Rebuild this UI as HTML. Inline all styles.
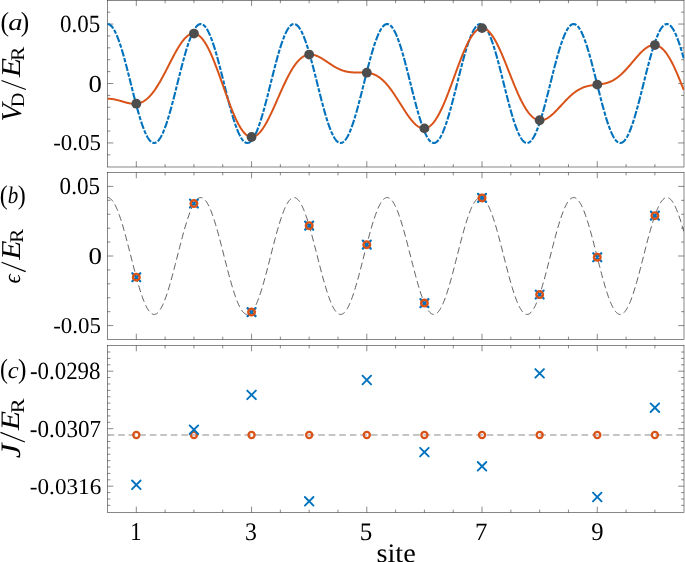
<!DOCTYPE html><html><head><meta charset="utf-8"><style>html,body{margin:0;padding:0;background:#fff;}body{width:685px;height:562px;overflow:hidden;position:relative;}</style></head><body><svg width="685" height="562" viewBox="0 0 685 562" style="position:absolute;left:0;top:0;will-change:transform">
<rect width="685" height="562" fill="#fff"/>
<defs><clipPath id="ca"><rect x="107.2" y="0" width="577.1" height="167.0"/></clipPath><clipPath id="cb"><rect x="107.2" y="172.5" width="577.1" height="167.0"/></clipPath></defs>
<rect x="107.5" y="0.3" width="576.50" height="166.70" fill="none" stroke="#262626" stroke-width="0.55"/>
<line x1="136.31" y1="167.00" x2="136.31" y2="161.20" stroke="#262626" stroke-width="0.55" />
<line x1="136.31" y1="0.30" x2="136.31" y2="6.10" stroke="#262626" stroke-width="0.55" />
<line x1="165.12" y1="167.00" x2="165.12" y2="164.10" stroke="#262626" stroke-width="0.55" />
<line x1="165.12" y1="0.30" x2="165.12" y2="3.20" stroke="#262626" stroke-width="0.55" />
<line x1="193.93" y1="167.00" x2="193.93" y2="164.10" stroke="#262626" stroke-width="0.55" />
<line x1="193.93" y1="0.30" x2="193.93" y2="3.20" stroke="#262626" stroke-width="0.55" />
<line x1="222.74" y1="167.00" x2="222.74" y2="164.10" stroke="#262626" stroke-width="0.55" />
<line x1="222.74" y1="0.30" x2="222.74" y2="3.20" stroke="#262626" stroke-width="0.55" />
<line x1="251.55" y1="167.00" x2="251.55" y2="161.20" stroke="#262626" stroke-width="0.55" />
<line x1="251.55" y1="0.30" x2="251.55" y2="6.10" stroke="#262626" stroke-width="0.55" />
<line x1="280.36" y1="167.00" x2="280.36" y2="164.10" stroke="#262626" stroke-width="0.55" />
<line x1="280.36" y1="0.30" x2="280.36" y2="3.20" stroke="#262626" stroke-width="0.55" />
<line x1="309.17" y1="167.00" x2="309.17" y2="164.10" stroke="#262626" stroke-width="0.55" />
<line x1="309.17" y1="0.30" x2="309.17" y2="3.20" stroke="#262626" stroke-width="0.55" />
<line x1="337.98" y1="167.00" x2="337.98" y2="164.10" stroke="#262626" stroke-width="0.55" />
<line x1="337.98" y1="0.30" x2="337.98" y2="3.20" stroke="#262626" stroke-width="0.55" />
<line x1="366.79" y1="167.00" x2="366.79" y2="161.20" stroke="#262626" stroke-width="0.55" />
<line x1="366.79" y1="0.30" x2="366.79" y2="6.10" stroke="#262626" stroke-width="0.55" />
<line x1="395.60" y1="167.00" x2="395.60" y2="164.10" stroke="#262626" stroke-width="0.55" />
<line x1="395.60" y1="0.30" x2="395.60" y2="3.20" stroke="#262626" stroke-width="0.55" />
<line x1="424.41" y1="167.00" x2="424.41" y2="164.10" stroke="#262626" stroke-width="0.55" />
<line x1="424.41" y1="0.30" x2="424.41" y2="3.20" stroke="#262626" stroke-width="0.55" />
<line x1="453.22" y1="167.00" x2="453.22" y2="164.10" stroke="#262626" stroke-width="0.55" />
<line x1="453.22" y1="0.30" x2="453.22" y2="3.20" stroke="#262626" stroke-width="0.55" />
<line x1="482.03" y1="167.00" x2="482.03" y2="161.20" stroke="#262626" stroke-width="0.55" />
<line x1="482.03" y1="0.30" x2="482.03" y2="6.10" stroke="#262626" stroke-width="0.55" />
<line x1="510.84" y1="167.00" x2="510.84" y2="164.10" stroke="#262626" stroke-width="0.55" />
<line x1="510.84" y1="0.30" x2="510.84" y2="3.20" stroke="#262626" stroke-width="0.55" />
<line x1="539.65" y1="167.00" x2="539.65" y2="164.10" stroke="#262626" stroke-width="0.55" />
<line x1="539.65" y1="0.30" x2="539.65" y2="3.20" stroke="#262626" stroke-width="0.55" />
<line x1="568.46" y1="167.00" x2="568.46" y2="164.10" stroke="#262626" stroke-width="0.55" />
<line x1="568.46" y1="0.30" x2="568.46" y2="3.20" stroke="#262626" stroke-width="0.55" />
<line x1="597.27" y1="167.00" x2="597.27" y2="161.20" stroke="#262626" stroke-width="0.55" />
<line x1="597.27" y1="0.30" x2="597.27" y2="6.10" stroke="#262626" stroke-width="0.55" />
<line x1="626.08" y1="167.00" x2="626.08" y2="164.10" stroke="#262626" stroke-width="0.55" />
<line x1="626.08" y1="0.30" x2="626.08" y2="3.20" stroke="#262626" stroke-width="0.55" />
<line x1="654.89" y1="167.00" x2="654.89" y2="164.10" stroke="#262626" stroke-width="0.55" />
<line x1="654.89" y1="0.30" x2="654.89" y2="3.20" stroke="#262626" stroke-width="0.55" />
<rect x="107.5" y="172.5" width="576.50" height="167.00" fill="none" stroke="#262626" stroke-width="0.55"/>
<line x1="136.31" y1="339.50" x2="136.31" y2="333.70" stroke="#262626" stroke-width="0.55" />
<line x1="136.31" y1="172.50" x2="136.31" y2="178.30" stroke="#262626" stroke-width="0.55" />
<line x1="165.12" y1="339.50" x2="165.12" y2="336.60" stroke="#262626" stroke-width="0.55" />
<line x1="165.12" y1="172.50" x2="165.12" y2="175.40" stroke="#262626" stroke-width="0.55" />
<line x1="193.93" y1="339.50" x2="193.93" y2="336.60" stroke="#262626" stroke-width="0.55" />
<line x1="193.93" y1="172.50" x2="193.93" y2="175.40" stroke="#262626" stroke-width="0.55" />
<line x1="222.74" y1="339.50" x2="222.74" y2="336.60" stroke="#262626" stroke-width="0.55" />
<line x1="222.74" y1="172.50" x2="222.74" y2="175.40" stroke="#262626" stroke-width="0.55" />
<line x1="251.55" y1="339.50" x2="251.55" y2="333.70" stroke="#262626" stroke-width="0.55" />
<line x1="251.55" y1="172.50" x2="251.55" y2="178.30" stroke="#262626" stroke-width="0.55" />
<line x1="280.36" y1="339.50" x2="280.36" y2="336.60" stroke="#262626" stroke-width="0.55" />
<line x1="280.36" y1="172.50" x2="280.36" y2="175.40" stroke="#262626" stroke-width="0.55" />
<line x1="309.17" y1="339.50" x2="309.17" y2="336.60" stroke="#262626" stroke-width="0.55" />
<line x1="309.17" y1="172.50" x2="309.17" y2="175.40" stroke="#262626" stroke-width="0.55" />
<line x1="337.98" y1="339.50" x2="337.98" y2="336.60" stroke="#262626" stroke-width="0.55" />
<line x1="337.98" y1="172.50" x2="337.98" y2="175.40" stroke="#262626" stroke-width="0.55" />
<line x1="366.79" y1="339.50" x2="366.79" y2="333.70" stroke="#262626" stroke-width="0.55" />
<line x1="366.79" y1="172.50" x2="366.79" y2="178.30" stroke="#262626" stroke-width="0.55" />
<line x1="395.60" y1="339.50" x2="395.60" y2="336.60" stroke="#262626" stroke-width="0.55" />
<line x1="395.60" y1="172.50" x2="395.60" y2="175.40" stroke="#262626" stroke-width="0.55" />
<line x1="424.41" y1="339.50" x2="424.41" y2="336.60" stroke="#262626" stroke-width="0.55" />
<line x1="424.41" y1="172.50" x2="424.41" y2="175.40" stroke="#262626" stroke-width="0.55" />
<line x1="453.22" y1="339.50" x2="453.22" y2="336.60" stroke="#262626" stroke-width="0.55" />
<line x1="453.22" y1="172.50" x2="453.22" y2="175.40" stroke="#262626" stroke-width="0.55" />
<line x1="482.03" y1="339.50" x2="482.03" y2="333.70" stroke="#262626" stroke-width="0.55" />
<line x1="482.03" y1="172.50" x2="482.03" y2="178.30" stroke="#262626" stroke-width="0.55" />
<line x1="510.84" y1="339.50" x2="510.84" y2="336.60" stroke="#262626" stroke-width="0.55" />
<line x1="510.84" y1="172.50" x2="510.84" y2="175.40" stroke="#262626" stroke-width="0.55" />
<line x1="539.65" y1="339.50" x2="539.65" y2="336.60" stroke="#262626" stroke-width="0.55" />
<line x1="539.65" y1="172.50" x2="539.65" y2="175.40" stroke="#262626" stroke-width="0.55" />
<line x1="568.46" y1="339.50" x2="568.46" y2="336.60" stroke="#262626" stroke-width="0.55" />
<line x1="568.46" y1="172.50" x2="568.46" y2="175.40" stroke="#262626" stroke-width="0.55" />
<line x1="597.27" y1="339.50" x2="597.27" y2="333.70" stroke="#262626" stroke-width="0.55" />
<line x1="597.27" y1="172.50" x2="597.27" y2="178.30" stroke="#262626" stroke-width="0.55" />
<line x1="626.08" y1="339.50" x2="626.08" y2="336.60" stroke="#262626" stroke-width="0.55" />
<line x1="626.08" y1="172.50" x2="626.08" y2="175.40" stroke="#262626" stroke-width="0.55" />
<line x1="654.89" y1="339.50" x2="654.89" y2="336.60" stroke="#262626" stroke-width="0.55" />
<line x1="654.89" y1="172.50" x2="654.89" y2="175.40" stroke="#262626" stroke-width="0.55" />
<rect x="107.5" y="345.5" width="576.50" height="167.00" fill="none" stroke="#262626" stroke-width="0.55"/>
<line x1="136.31" y1="512.50" x2="136.31" y2="506.70" stroke="#262626" stroke-width="0.55" />
<line x1="136.31" y1="345.50" x2="136.31" y2="351.30" stroke="#262626" stroke-width="0.55" />
<line x1="165.12" y1="512.50" x2="165.12" y2="509.60" stroke="#262626" stroke-width="0.55" />
<line x1="165.12" y1="345.50" x2="165.12" y2="348.40" stroke="#262626" stroke-width="0.55" />
<line x1="193.93" y1="512.50" x2="193.93" y2="509.60" stroke="#262626" stroke-width="0.55" />
<line x1="193.93" y1="345.50" x2="193.93" y2="348.40" stroke="#262626" stroke-width="0.55" />
<line x1="222.74" y1="512.50" x2="222.74" y2="509.60" stroke="#262626" stroke-width="0.55" />
<line x1="222.74" y1="345.50" x2="222.74" y2="348.40" stroke="#262626" stroke-width="0.55" />
<line x1="251.55" y1="512.50" x2="251.55" y2="506.70" stroke="#262626" stroke-width="0.55" />
<line x1="251.55" y1="345.50" x2="251.55" y2="351.30" stroke="#262626" stroke-width="0.55" />
<line x1="280.36" y1="512.50" x2="280.36" y2="509.60" stroke="#262626" stroke-width="0.55" />
<line x1="280.36" y1="345.50" x2="280.36" y2="348.40" stroke="#262626" stroke-width="0.55" />
<line x1="309.17" y1="512.50" x2="309.17" y2="509.60" stroke="#262626" stroke-width="0.55" />
<line x1="309.17" y1="345.50" x2="309.17" y2="348.40" stroke="#262626" stroke-width="0.55" />
<line x1="337.98" y1="512.50" x2="337.98" y2="509.60" stroke="#262626" stroke-width="0.55" />
<line x1="337.98" y1="345.50" x2="337.98" y2="348.40" stroke="#262626" stroke-width="0.55" />
<line x1="366.79" y1="512.50" x2="366.79" y2="506.70" stroke="#262626" stroke-width="0.55" />
<line x1="366.79" y1="345.50" x2="366.79" y2="351.30" stroke="#262626" stroke-width="0.55" />
<line x1="395.60" y1="512.50" x2="395.60" y2="509.60" stroke="#262626" stroke-width="0.55" />
<line x1="395.60" y1="345.50" x2="395.60" y2="348.40" stroke="#262626" stroke-width="0.55" />
<line x1="424.41" y1="512.50" x2="424.41" y2="509.60" stroke="#262626" stroke-width="0.55" />
<line x1="424.41" y1="345.50" x2="424.41" y2="348.40" stroke="#262626" stroke-width="0.55" />
<line x1="453.22" y1="512.50" x2="453.22" y2="509.60" stroke="#262626" stroke-width="0.55" />
<line x1="453.22" y1="345.50" x2="453.22" y2="348.40" stroke="#262626" stroke-width="0.55" />
<line x1="482.03" y1="512.50" x2="482.03" y2="506.70" stroke="#262626" stroke-width="0.55" />
<line x1="482.03" y1="345.50" x2="482.03" y2="351.30" stroke="#262626" stroke-width="0.55" />
<line x1="510.84" y1="512.50" x2="510.84" y2="509.60" stroke="#262626" stroke-width="0.55" />
<line x1="510.84" y1="345.50" x2="510.84" y2="348.40" stroke="#262626" stroke-width="0.55" />
<line x1="539.65" y1="512.50" x2="539.65" y2="509.60" stroke="#262626" stroke-width="0.55" />
<line x1="539.65" y1="345.50" x2="539.65" y2="348.40" stroke="#262626" stroke-width="0.55" />
<line x1="568.46" y1="512.50" x2="568.46" y2="509.60" stroke="#262626" stroke-width="0.55" />
<line x1="568.46" y1="345.50" x2="568.46" y2="348.40" stroke="#262626" stroke-width="0.55" />
<line x1="597.27" y1="512.50" x2="597.27" y2="506.70" stroke="#262626" stroke-width="0.55" />
<line x1="597.27" y1="345.50" x2="597.27" y2="351.30" stroke="#262626" stroke-width="0.55" />
<line x1="626.08" y1="512.50" x2="626.08" y2="509.60" stroke="#262626" stroke-width="0.55" />
<line x1="626.08" y1="345.50" x2="626.08" y2="348.40" stroke="#262626" stroke-width="0.55" />
<line x1="654.89" y1="512.50" x2="654.89" y2="509.60" stroke="#262626" stroke-width="0.55" />
<line x1="654.89" y1="345.50" x2="654.89" y2="348.40" stroke="#262626" stroke-width="0.55" />
<line x1="107.50" y1="24.05" x2="113.30" y2="24.05" stroke="#262626" stroke-width="0.55" />
<line x1="684.00" y1="24.05" x2="678.20" y2="24.05" stroke="#262626" stroke-width="0.55" />
<line x1="107.50" y1="83.50" x2="113.30" y2="83.50" stroke="#262626" stroke-width="0.55" />
<line x1="684.00" y1="83.50" x2="678.20" y2="83.50" stroke="#262626" stroke-width="0.55" />
<line x1="107.50" y1="142.95" x2="113.30" y2="142.95" stroke="#262626" stroke-width="0.55" />
<line x1="684.00" y1="142.95" x2="678.20" y2="142.95" stroke="#262626" stroke-width="0.55" />
<line x1="107.50" y1="154.84" x2="110.40" y2="154.84" stroke="#262626" stroke-width="0.55" />
<line x1="684.00" y1="154.84" x2="681.10" y2="154.84" stroke="#262626" stroke-width="0.55" />
<line x1="107.50" y1="131.06" x2="110.40" y2="131.06" stroke="#262626" stroke-width="0.55" />
<line x1="684.00" y1="131.06" x2="681.10" y2="131.06" stroke="#262626" stroke-width="0.55" />
<line x1="107.50" y1="119.17" x2="110.40" y2="119.17" stroke="#262626" stroke-width="0.55" />
<line x1="684.00" y1="119.17" x2="681.10" y2="119.17" stroke="#262626" stroke-width="0.55" />
<line x1="107.50" y1="107.28" x2="110.40" y2="107.28" stroke="#262626" stroke-width="0.55" />
<line x1="684.00" y1="107.28" x2="681.10" y2="107.28" stroke="#262626" stroke-width="0.55" />
<line x1="107.50" y1="95.39" x2="110.40" y2="95.39" stroke="#262626" stroke-width="0.55" />
<line x1="684.00" y1="95.39" x2="681.10" y2="95.39" stroke="#262626" stroke-width="0.55" />
<line x1="107.50" y1="71.61" x2="110.40" y2="71.61" stroke="#262626" stroke-width="0.55" />
<line x1="684.00" y1="71.61" x2="681.10" y2="71.61" stroke="#262626" stroke-width="0.55" />
<line x1="107.50" y1="59.72" x2="110.40" y2="59.72" stroke="#262626" stroke-width="0.55" />
<line x1="684.00" y1="59.72" x2="681.10" y2="59.72" stroke="#262626" stroke-width="0.55" />
<line x1="107.50" y1="47.83" x2="110.40" y2="47.83" stroke="#262626" stroke-width="0.55" />
<line x1="684.00" y1="47.83" x2="681.10" y2="47.83" stroke="#262626" stroke-width="0.55" />
<line x1="107.50" y1="35.94" x2="110.40" y2="35.94" stroke="#262626" stroke-width="0.55" />
<line x1="684.00" y1="35.94" x2="681.10" y2="35.94" stroke="#262626" stroke-width="0.55" />
<line x1="107.50" y1="12.16" x2="110.40" y2="12.16" stroke="#262626" stroke-width="0.55" />
<line x1="684.00" y1="12.16" x2="681.10" y2="12.16" stroke="#262626" stroke-width="0.55" />
<line x1="107.50" y1="186.41" x2="113.30" y2="186.41" stroke="#262626" stroke-width="0.55" />
<line x1="684.00" y1="186.41" x2="678.20" y2="186.41" stroke="#262626" stroke-width="0.55" />
<line x1="107.50" y1="256.00" x2="113.30" y2="256.00" stroke="#262626" stroke-width="0.55" />
<line x1="684.00" y1="256.00" x2="678.20" y2="256.00" stroke="#262626" stroke-width="0.55" />
<line x1="107.50" y1="325.59" x2="113.30" y2="325.59" stroke="#262626" stroke-width="0.55" />
<line x1="684.00" y1="325.59" x2="678.20" y2="325.59" stroke="#262626" stroke-width="0.55" />
<line x1="107.50" y1="311.67" x2="110.40" y2="311.67" stroke="#262626" stroke-width="0.55" />
<line x1="684.00" y1="311.67" x2="681.10" y2="311.67" stroke="#262626" stroke-width="0.55" />
<line x1="107.50" y1="297.75" x2="110.40" y2="297.75" stroke="#262626" stroke-width="0.55" />
<line x1="684.00" y1="297.75" x2="681.10" y2="297.75" stroke="#262626" stroke-width="0.55" />
<line x1="107.50" y1="283.83" x2="110.40" y2="283.83" stroke="#262626" stroke-width="0.55" />
<line x1="684.00" y1="283.83" x2="681.10" y2="283.83" stroke="#262626" stroke-width="0.55" />
<line x1="107.50" y1="269.92" x2="110.40" y2="269.92" stroke="#262626" stroke-width="0.55" />
<line x1="684.00" y1="269.92" x2="681.10" y2="269.92" stroke="#262626" stroke-width="0.55" />
<line x1="107.50" y1="242.08" x2="110.40" y2="242.08" stroke="#262626" stroke-width="0.55" />
<line x1="684.00" y1="242.08" x2="681.10" y2="242.08" stroke="#262626" stroke-width="0.55" />
<line x1="107.50" y1="228.17" x2="110.40" y2="228.17" stroke="#262626" stroke-width="0.55" />
<line x1="684.00" y1="228.17" x2="681.10" y2="228.17" stroke="#262626" stroke-width="0.55" />
<line x1="107.50" y1="214.25" x2="110.40" y2="214.25" stroke="#262626" stroke-width="0.55" />
<line x1="684.00" y1="214.25" x2="681.10" y2="214.25" stroke="#262626" stroke-width="0.55" />
<line x1="107.50" y1="200.33" x2="110.40" y2="200.33" stroke="#262626" stroke-width="0.55" />
<line x1="684.00" y1="200.33" x2="681.10" y2="200.33" stroke="#262626" stroke-width="0.55" />
<line x1="107.50" y1="371.20" x2="113.30" y2="371.20" stroke="#262626" stroke-width="0.55" />
<line x1="684.00" y1="371.20" x2="678.20" y2="371.20" stroke="#262626" stroke-width="0.55" />
<line x1="107.50" y1="428.70" x2="113.30" y2="428.70" stroke="#262626" stroke-width="0.55" />
<line x1="684.00" y1="428.70" x2="678.20" y2="428.70" stroke="#262626" stroke-width="0.55" />
<line x1="107.50" y1="486.20" x2="113.30" y2="486.20" stroke="#262626" stroke-width="0.55" />
<line x1="684.00" y1="486.20" x2="678.20" y2="486.20" stroke="#262626" stroke-width="0.55" />
<line x1="107.50" y1="352.03" x2="110.40" y2="352.03" stroke="#262626" stroke-width="0.55" />
<line x1="684.00" y1="352.03" x2="681.10" y2="352.03" stroke="#262626" stroke-width="0.55" />
<line x1="107.50" y1="358.42" x2="110.40" y2="358.42" stroke="#262626" stroke-width="0.55" />
<line x1="684.00" y1="358.42" x2="681.10" y2="358.42" stroke="#262626" stroke-width="0.55" />
<line x1="107.50" y1="364.81" x2="110.40" y2="364.81" stroke="#262626" stroke-width="0.55" />
<line x1="684.00" y1="364.81" x2="681.10" y2="364.81" stroke="#262626" stroke-width="0.55" />
<line x1="107.50" y1="377.59" x2="110.40" y2="377.59" stroke="#262626" stroke-width="0.55" />
<line x1="684.00" y1="377.59" x2="681.10" y2="377.59" stroke="#262626" stroke-width="0.55" />
<line x1="107.50" y1="383.98" x2="110.40" y2="383.98" stroke="#262626" stroke-width="0.55" />
<line x1="684.00" y1="383.98" x2="681.10" y2="383.98" stroke="#262626" stroke-width="0.55" />
<line x1="107.50" y1="390.37" x2="110.40" y2="390.37" stroke="#262626" stroke-width="0.55" />
<line x1="684.00" y1="390.37" x2="681.10" y2="390.37" stroke="#262626" stroke-width="0.55" />
<line x1="107.50" y1="396.76" x2="110.40" y2="396.76" stroke="#262626" stroke-width="0.55" />
<line x1="684.00" y1="396.76" x2="681.10" y2="396.76" stroke="#262626" stroke-width="0.55" />
<line x1="107.50" y1="403.14" x2="110.40" y2="403.14" stroke="#262626" stroke-width="0.55" />
<line x1="684.00" y1="403.14" x2="681.10" y2="403.14" stroke="#262626" stroke-width="0.55" />
<line x1="107.50" y1="409.53" x2="110.40" y2="409.53" stroke="#262626" stroke-width="0.55" />
<line x1="684.00" y1="409.53" x2="681.10" y2="409.53" stroke="#262626" stroke-width="0.55" />
<line x1="107.50" y1="415.92" x2="110.40" y2="415.92" stroke="#262626" stroke-width="0.55" />
<line x1="684.00" y1="415.92" x2="681.10" y2="415.92" stroke="#262626" stroke-width="0.55" />
<line x1="107.50" y1="422.31" x2="110.40" y2="422.31" stroke="#262626" stroke-width="0.55" />
<line x1="684.00" y1="422.31" x2="681.10" y2="422.31" stroke="#262626" stroke-width="0.55" />
<line x1="107.50" y1="435.09" x2="110.40" y2="435.09" stroke="#262626" stroke-width="0.55" />
<line x1="684.00" y1="435.09" x2="681.10" y2="435.09" stroke="#262626" stroke-width="0.55" />
<line x1="107.50" y1="441.48" x2="110.40" y2="441.48" stroke="#262626" stroke-width="0.55" />
<line x1="684.00" y1="441.48" x2="681.10" y2="441.48" stroke="#262626" stroke-width="0.55" />
<line x1="107.50" y1="447.87" x2="110.40" y2="447.87" stroke="#262626" stroke-width="0.55" />
<line x1="684.00" y1="447.87" x2="681.10" y2="447.87" stroke="#262626" stroke-width="0.55" />
<line x1="107.50" y1="454.26" x2="110.40" y2="454.26" stroke="#262626" stroke-width="0.55" />
<line x1="684.00" y1="454.26" x2="681.10" y2="454.26" stroke="#262626" stroke-width="0.55" />
<line x1="107.50" y1="460.65" x2="110.40" y2="460.65" stroke="#262626" stroke-width="0.55" />
<line x1="684.00" y1="460.65" x2="681.10" y2="460.65" stroke="#262626" stroke-width="0.55" />
<line x1="107.50" y1="467.03" x2="110.40" y2="467.03" stroke="#262626" stroke-width="0.55" />
<line x1="684.00" y1="467.03" x2="681.10" y2="467.03" stroke="#262626" stroke-width="0.55" />
<line x1="107.50" y1="473.42" x2="110.40" y2="473.42" stroke="#262626" stroke-width="0.55" />
<line x1="684.00" y1="473.42" x2="681.10" y2="473.42" stroke="#262626" stroke-width="0.55" />
<line x1="107.50" y1="479.81" x2="110.40" y2="479.81" stroke="#262626" stroke-width="0.55" />
<line x1="684.00" y1="479.81" x2="681.10" y2="479.81" stroke="#262626" stroke-width="0.55" />
<line x1="107.50" y1="492.59" x2="110.40" y2="492.59" stroke="#262626" stroke-width="0.55" />
<line x1="684.00" y1="492.59" x2="681.10" y2="492.59" stroke="#262626" stroke-width="0.55" />
<line x1="107.50" y1="498.98" x2="110.40" y2="498.98" stroke="#262626" stroke-width="0.55" />
<line x1="684.00" y1="498.98" x2="681.10" y2="498.98" stroke="#262626" stroke-width="0.55" />
<line x1="107.50" y1="505.37" x2="110.40" y2="505.37" stroke="#262626" stroke-width="0.55" />
<line x1="684.00" y1="505.37" x2="681.10" y2="505.37" stroke="#262626" stroke-width="0.55" />
<g clip-path="url(#ca)">
<path d="M107.50,24.05 L107.98,24.08 L108.46,24.17 L108.94,24.33 L109.42,24.55 L109.90,24.83 L110.38,25.17 L110.86,25.57 L111.34,26.03 L111.83,26.56 L112.31,27.14 L112.79,27.78 L113.27,28.48 L113.75,29.24 L114.23,30.06 L114.71,30.93 L115.19,31.85 L115.67,32.84 L116.15,33.87 L116.63,34.96 L117.11,36.09 L117.59,37.28 L118.07,38.51 L118.55,39.80 L119.03,41.12 L119.51,42.50 L119.99,43.91 L120.48,45.37 L120.96,46.86 L121.44,48.40 L121.92,49.97 L122.40,51.58 L122.88,53.22 L123.36,54.89 L123.84,56.60 L124.32,58.33 L124.80,60.08 L125.28,61.87 L125.76,63.67 L126.24,65.49 L126.72,67.34 L127.20,69.20 L127.68,71.08 L128.16,72.97 L128.64,74.87 L129.13,76.77 L129.61,78.69 L130.09,80.61 L130.57,82.54 L131.05,84.46 L131.53,86.39 L132.01,88.31 L132.49,90.22 L132.97,92.13 L133.45,94.03 L133.93,95.92 L134.41,97.80 L134.89,99.66 L135.37,101.50 L135.85,103.33 L136.33,105.13 L136.81,106.91 L137.30,108.67 L137.78,110.40 L138.26,112.11 L138.74,113.78 L139.22,115.42 L139.70,117.03 L140.18,118.60 L140.66,120.13 L141.14,121.63 L141.62,123.09 L142.10,124.50 L142.58,125.88 L143.06,127.20 L143.54,128.49 L144.02,129.72 L144.50,130.91 L144.98,132.04 L145.46,133.13 L145.95,134.16 L146.43,135.14 L146.91,136.07 L147.39,136.94 L147.87,137.76 L148.35,138.52 L148.83,139.22 L149.31,139.86 L149.79,140.44 L150.27,140.97 L150.75,141.43 L151.23,141.83 L151.71,142.17 L152.19,142.45 L152.67,142.67 L153.15,142.83 L153.63,142.92 L154.12,142.95 L154.60,142.92 L155.08,142.83 L155.56,142.67 L156.04,142.45 L156.52,142.17 L157.00,141.83 L157.48,141.43 L157.96,140.97 L158.44,140.44 L158.92,139.86 L159.40,139.22 L159.88,138.52 L160.36,137.76 L160.84,136.94 L161.32,136.07 L161.80,135.15 L162.28,134.17 L162.77,133.13 L163.25,132.05 L163.73,130.91 L164.21,129.72 L164.69,128.49 L165.17,127.21 L165.65,125.88 L166.13,124.51 L166.61,123.09 L167.09,121.63 L167.57,120.14 L168.05,118.60 L168.53,117.03 L169.01,115.42 L169.49,113.78 L169.97,112.11 L170.45,110.41 L170.93,108.68 L171.42,106.92 L171.90,105.14 L172.38,103.33 L172.86,101.51 L173.34,99.66 L173.82,97.80 L174.30,95.93 L174.78,94.04 L175.26,92.14 L175.74,90.23 L176.22,88.31 L176.70,86.39 L177.18,84.47 L177.66,82.54 L178.14,80.62 L178.62,78.69 L179.10,76.78 L179.59,74.87 L180.07,72.97 L180.55,71.08 L181.03,69.20 L181.51,67.34 L181.99,65.50 L182.47,63.67 L182.95,61.87 L183.43,60.09 L183.91,58.33 L184.39,56.60 L184.87,54.90 L185.35,53.22 L185.83,51.58 L186.31,49.98 L186.79,48.40 L187.27,46.87 L187.75,45.37 L188.24,43.91 L188.72,42.50 L189.20,41.13 L189.68,39.80 L190.16,38.52 L190.64,37.28 L191.12,36.09 L191.60,34.96 L192.08,33.87 L192.56,32.84 L193.04,31.86 L193.52,30.93 L194.00,30.06 L194.48,29.24 L194.96,28.49 L195.44,27.78 L195.92,27.14 L196.40,26.56 L196.89,26.04 L197.37,25.57 L197.85,25.17 L198.33,24.83 L198.81,24.55 L199.29,24.33 L199.77,24.17 L200.25,24.08 L200.73,24.05 L201.21,24.08 L201.69,24.17 L202.17,24.33 L202.65,24.55 L203.13,24.83 L203.61,25.17 L204.09,25.57 L204.57,26.03 L205.06,26.56 L205.54,27.14 L206.02,27.78 L206.50,28.48 L206.98,29.24 L207.46,30.06 L207.94,30.93 L208.42,31.85 L208.90,32.83 L209.38,33.87 L209.86,34.95 L210.34,36.09 L210.82,37.28 L211.30,38.51 L211.78,39.79 L212.26,41.12 L212.74,42.49 L213.22,43.91 L213.71,45.36 L214.19,46.86 L214.67,48.40 L215.15,49.97 L215.63,51.58 L216.11,53.22 L216.59,54.89 L217.07,56.59 L217.55,58.32 L218.03,60.08 L218.51,61.86 L218.99,63.67 L219.47,65.49 L219.95,67.33 L220.43,69.20 L220.91,71.07 L221.39,72.96 L221.87,74.86 L222.36,76.77 L222.84,78.69 L223.32,80.61 L223.80,82.53 L224.28,84.46 L224.76,86.38 L225.24,88.30 L225.72,90.22 L226.20,92.13 L226.68,94.03 L227.16,95.92 L227.64,97.79 L228.12,99.65 L228.60,101.50 L229.08,103.32 L229.56,105.13 L230.04,106.91 L230.53,108.67 L231.01,110.40 L231.49,112.10 L231.97,113.77 L232.45,115.41 L232.93,117.02 L233.41,118.59 L233.89,120.13 L234.37,121.63 L234.85,123.08 L235.33,124.50 L235.81,125.87 L236.29,127.20 L236.77,128.48 L237.25,129.72 L237.73,130.90 L238.21,132.04 L238.69,133.13 L239.18,134.16 L239.66,135.14 L240.14,136.07 L240.62,136.94 L241.10,137.76 L241.58,138.51 L242.06,139.21 L242.54,139.86 L243.02,140.44 L243.50,140.96 L243.98,141.43 L244.46,141.83 L244.94,142.17 L245.42,142.45 L245.90,142.67 L246.38,142.82 L246.86,142.92 L247.35,142.95 L247.83,142.92 L248.31,142.83 L248.79,142.67 L249.27,142.45 L249.75,142.17 L250.23,141.83 L250.71,141.43 L251.19,140.97 L251.67,140.44 L252.15,139.86 L252.63,139.22 L253.11,138.52 L253.59,137.76 L254.07,136.95 L254.55,136.07 L255.03,135.15 L255.51,134.17 L256.00,133.13 L256.48,132.05 L256.96,130.91 L257.44,129.73 L257.92,128.49 L258.40,127.21 L258.88,125.88 L259.36,124.51 L259.84,123.09 L260.32,121.64 L260.80,120.14 L261.28,118.61 L261.76,117.03 L262.24,115.43 L262.72,113.79 L263.20,112.11 L263.68,110.41 L264.16,108.68 L264.65,106.92 L265.13,105.14 L265.61,103.34 L266.09,101.51 L266.57,99.67 L267.05,97.81 L267.53,95.93 L268.01,94.04 L268.49,92.14 L268.97,90.23 L269.45,88.32 L269.93,86.39 L270.41,84.47 L270.89,82.54 L271.37,80.62 L271.85,78.70 L272.33,76.78 L272.82,74.87 L273.30,72.97 L273.78,71.08 L274.26,69.21 L274.74,67.35 L275.22,65.50 L275.70,63.68 L276.18,61.87 L276.66,60.09 L277.14,58.33 L277.62,56.60 L278.10,54.90 L278.58,53.23 L279.06,51.59 L279.54,49.98 L280.02,48.41 L280.50,46.87 L280.98,45.37 L281.47,43.92 L281.95,42.50 L282.43,41.13 L282.91,39.80 L283.39,38.52 L283.87,37.28 L284.35,36.10 L284.83,34.96 L285.31,33.87 L285.79,32.84 L286.27,31.86 L286.75,30.93 L287.23,30.06 L287.71,29.25 L288.19,28.49 L288.67,27.79 L289.15,27.14 L289.63,26.56 L290.12,26.04 L290.60,25.57 L291.08,25.17 L291.56,24.83 L292.04,24.55 L292.52,24.33 L293.00,24.18 L293.48,24.08 L293.96,24.05 L294.44,24.08 L294.92,24.17 L295.40,24.33 L295.88,24.55 L296.36,24.83 L296.84,25.17 L297.32,25.57 L297.80,26.03 L298.29,26.56 L298.77,27.14 L299.25,27.78 L299.73,28.48 L300.21,29.24 L300.69,30.05 L301.17,30.92 L301.65,31.85 L302.13,32.83 L302.61,33.86 L303.09,34.95 L303.57,36.09 L304.05,37.27 L304.53,38.51 L305.01,39.79 L305.49,41.12 L305.97,42.49 L306.45,43.90 L306.94,45.36 L307.42,46.86 L307.90,48.39 L308.38,49.96 L308.86,51.57 L309.34,53.21 L309.82,54.89 L310.30,56.59 L310.78,58.32 L311.26,60.08 L311.74,61.86 L312.22,63.66 L312.70,65.49 L313.18,67.33 L313.66,69.19 L314.14,71.07 L314.62,72.96 L315.11,74.86 L315.59,76.77 L316.07,78.68 L316.55,80.60 L317.03,82.53 L317.51,84.45 L317.99,86.38 L318.47,88.30 L318.95,90.21 L319.43,92.12 L319.91,94.02 L320.39,95.91 L320.87,97.79 L321.35,99.65 L321.83,101.49 L322.31,103.32 L322.79,105.12 L323.27,106.91 L323.76,108.66 L324.24,110.39 L324.72,112.10 L325.20,113.77 L325.68,115.41 L326.16,117.02 L326.64,118.59 L327.12,120.13 L327.60,121.62 L328.08,123.08 L328.56,124.50 L329.04,125.87 L329.52,127.20 L330.00,128.48 L330.48,129.71 L330.96,130.90 L331.44,132.04 L331.92,133.12 L332.41,134.16 L332.89,135.14 L333.37,136.07 L333.85,136.94 L334.33,137.75 L334.81,138.51 L335.29,139.21 L335.77,139.86 L336.25,140.44 L336.73,140.96 L337.21,141.43 L337.69,141.83 L338.17,142.17 L338.65,142.45 L339.13,142.67 L339.61,142.82 L340.09,142.92 L340.58,142.95 L341.06,142.92 L341.54,142.83 L342.02,142.67 L342.50,142.45 L342.98,142.17 L343.46,141.83 L343.94,141.43 L344.42,140.97 L344.90,140.45 L345.38,139.86 L345.86,139.22 L346.34,138.52 L346.82,137.76 L347.30,136.95 L347.78,136.08 L348.26,135.15 L348.74,134.17 L349.23,133.14 L349.71,132.05 L350.19,130.91 L350.67,129.73 L351.15,128.49 L351.63,127.21 L352.11,125.88 L352.59,124.51 L353.07,123.10 L353.55,121.64 L354.03,120.14 L354.51,118.61 L354.99,117.04 L355.47,115.43 L355.95,113.79 L356.43,112.12 L356.91,110.41 L357.39,108.68 L357.88,106.93 L358.36,105.15 L358.84,103.34 L359.32,101.52 L359.80,99.67 L360.28,97.81 L360.76,95.93 L361.24,94.05 L361.72,92.15 L362.20,90.24 L362.68,88.32 L363.16,86.40 L363.64,84.47 L364.12,82.55 L364.60,80.63 L365.08,78.70 L365.56,76.79 L366.05,74.88 L366.53,72.98 L367.01,71.09 L367.49,69.21 L367.97,67.35 L368.45,65.51 L368.93,63.68 L369.41,61.88 L369.89,60.10 L370.37,58.34 L370.85,56.61 L371.33,54.90 L371.81,53.23 L372.29,51.59 L372.77,49.98 L373.25,48.41 L373.73,46.88 L374.21,45.38 L374.70,43.92 L375.18,42.51 L375.66,41.13 L376.14,39.80 L376.62,38.52 L377.10,37.29 L377.58,36.10 L378.06,34.96 L378.54,33.88 L379.02,32.84 L379.50,31.86 L379.98,30.93 L380.46,30.06 L380.94,29.25 L381.42,28.49 L381.90,27.79 L382.38,27.14 L382.86,26.56 L383.35,26.04 L383.83,25.57 L384.31,25.17 L384.79,24.83 L385.27,24.55 L385.75,24.33 L386.23,24.18 L386.71,24.08 L387.19,24.05 L387.67,24.08 L388.15,24.17 L388.63,24.33 L389.11,24.55 L389.59,24.83 L390.07,25.17 L390.55,25.57 L391.03,26.03 L391.52,26.55 L392.00,27.14 L392.48,27.78 L392.96,28.48 L393.44,29.24 L393.92,30.05 L394.40,30.92 L394.88,31.85 L395.36,32.83 L395.84,33.86 L396.32,34.95 L396.80,36.08 L397.28,37.27 L397.76,38.50 L398.24,39.79 L398.72,41.11 L399.20,42.49 L399.68,43.90 L400.17,45.36 L400.65,46.85 L401.13,48.39 L401.61,49.96 L402.09,51.57 L402.57,53.21 L403.05,54.88 L403.53,56.58 L404.01,58.31 L404.49,60.07 L404.97,61.85 L405.45,63.66 L405.93,65.48 L406.41,67.33 L406.89,69.19 L407.37,71.06 L407.85,72.95 L408.34,74.85 L408.82,76.76 L409.30,78.68 L409.78,80.60 L410.26,82.52 L410.74,84.45 L411.22,86.37 L411.70,88.29 L412.18,90.21 L412.66,92.12 L413.14,94.02 L413.62,95.91 L414.10,97.79 L414.58,99.65 L415.06,101.49 L415.54,103.32 L416.02,105.12 L416.50,106.90 L416.99,108.66 L417.47,110.39 L417.95,112.09 L418.43,113.77 L418.91,115.41 L419.39,117.02 L419.87,118.59 L420.35,120.12 L420.83,121.62 L421.31,123.08 L421.79,124.49 L422.27,125.87 L422.75,127.19 L423.23,128.48 L423.71,129.71 L424.19,130.90 L424.67,132.04 L425.15,133.12 L425.64,134.16 L426.12,135.14 L426.60,136.06 L427.08,136.94 L427.56,137.75 L428.04,138.51 L428.52,139.21 L429.00,139.85 L429.48,140.44 L429.96,140.96 L430.44,141.43 L430.92,141.83 L431.40,142.17 L431.88,142.45 L432.36,142.67 L432.84,142.82 L433.32,142.92 L433.81,142.95 L434.29,142.92 L434.77,142.83 L435.25,142.67 L435.73,142.45 L436.21,142.17 L436.69,141.83 L437.17,141.43 L437.65,140.97 L438.13,140.45 L438.61,139.86 L439.09,139.22 L439.57,138.52 L440.05,137.76 L440.53,136.95 L441.01,136.08 L441.49,135.15 L441.97,134.17 L442.46,133.14 L442.94,132.05 L443.42,130.92 L443.90,129.73 L444.38,128.50 L444.86,127.22 L445.34,125.89 L445.82,124.52 L446.30,123.10 L446.78,121.64 L447.26,120.15 L447.74,118.61 L448.22,117.04 L448.70,115.43 L449.18,113.79 L449.66,112.12 L450.14,110.42 L450.62,108.69 L451.11,106.93 L451.59,105.15 L452.07,103.34 L452.55,101.52 L453.03,99.68 L453.51,97.81 L453.99,95.94 L454.47,94.05 L454.95,92.15 L455.43,90.24 L455.91,88.32 L456.39,86.40 L456.87,84.48 L457.35,82.55 L457.83,80.63 L458.31,78.71 L458.79,76.79 L459.28,74.88 L459.76,72.98 L460.24,71.09 L460.72,69.22 L461.20,67.36 L461.68,65.51 L462.16,63.69 L462.64,61.88 L463.12,60.10 L463.60,58.34 L464.08,56.61 L464.56,54.91 L465.04,53.24 L465.52,51.59 L466.00,49.99 L466.48,48.41 L466.96,46.88 L467.44,45.38 L467.93,43.92 L468.41,42.51 L468.89,41.14 L469.37,39.81 L469.85,38.52 L470.33,37.29 L470.81,36.10 L471.29,34.97 L471.77,33.88 L472.25,32.84 L472.73,31.86 L473.21,30.94 L473.69,30.06 L474.17,29.25 L474.65,28.49 L475.13,27.79 L475.61,27.15 L476.09,26.56 L476.58,26.04 L477.06,25.58 L477.54,25.17 L478.02,24.83 L478.50,24.55 L478.98,24.33 L479.46,24.18 L479.94,24.08 L480.42,24.05 L480.90,24.08 L481.38,24.17 L481.86,24.33 L482.34,24.55 L482.82,24.82 L483.30,25.17 L483.78,25.57 L484.26,26.03 L484.75,26.55 L485.23,27.14 L485.71,27.78 L486.19,28.48 L486.67,29.23 L487.15,30.05 L487.63,30.92 L488.11,31.85 L488.59,32.83 L489.07,33.86 L489.55,34.94 L490.03,36.08 L490.51,37.27 L490.99,38.50 L491.47,39.78 L491.95,41.11 L492.43,42.48 L492.91,43.90 L493.40,45.35 L493.88,46.85 L494.36,48.39 L494.84,49.96 L495.32,51.56 L495.80,53.21 L496.28,54.88 L496.76,56.58 L497.24,58.31 L497.72,60.07 L498.20,61.85 L498.68,63.65 L499.16,65.48 L499.64,67.32 L500.12,69.18 L500.60,71.06 L501.08,72.95 L501.57,74.85 L502.05,76.76 L502.53,78.67 L503.01,80.59 L503.49,82.52 L503.97,84.44 L504.45,86.37 L504.93,88.29 L505.41,90.21 L505.89,92.12 L506.37,94.02 L506.85,95.90 L507.33,97.78 L507.81,99.64 L508.29,101.49 L508.77,103.31 L509.25,105.12 L509.73,106.90 L510.22,108.66 L510.70,110.39 L511.18,112.09 L511.66,113.76 L512.14,115.40 L512.62,117.01 L513.10,118.58 L513.58,120.12 L514.06,121.62 L514.54,123.07 L515.02,124.49 L515.50,125.86 L515.98,127.19 L516.46,128.47 L516.94,129.71 L517.42,130.90 L517.90,132.03 L518.38,133.12 L518.87,134.15 L519.35,135.14 L519.83,136.06 L520.31,136.93 L520.79,137.75 L521.27,138.51 L521.75,139.21 L522.23,139.85 L522.71,140.44 L523.19,140.96 L523.67,141.42 L524.15,141.83 L524.63,142.17 L525.11,142.45 L525.59,142.67 L526.07,142.82 L526.55,142.92 L527.04,142.95 L527.52,142.92 L528.00,142.83 L528.48,142.67 L528.96,142.45 L529.44,142.18 L529.92,141.83 L530.40,141.43 L530.88,140.97 L531.36,140.45 L531.84,139.87 L532.32,139.22 L532.80,138.52 L533.28,137.77 L533.76,136.95 L534.24,136.08 L534.72,135.15 L535.20,134.17 L535.69,133.14 L536.17,132.06 L536.65,130.92 L537.13,129.73 L537.61,128.50 L538.09,127.22 L538.57,125.89 L539.05,124.52 L539.53,123.10 L540.01,121.65 L540.49,120.15 L540.97,118.62 L541.45,117.04 L541.93,115.44 L542.41,113.80 L542.89,112.12 L543.37,110.42 L543.85,108.69 L544.34,106.93 L544.82,105.15 L545.30,103.35 L545.78,101.52 L546.26,99.68 L546.74,97.82 L547.22,95.94 L547.70,94.05 L548.18,92.15 L548.66,90.25 L549.14,88.33 L549.62,86.41 L550.10,84.48 L550.58,82.56 L551.06,80.63 L551.54,78.71 L552.02,76.80 L552.51,74.89 L552.99,72.99 L553.47,71.10 L553.95,69.22 L554.43,67.36 L554.91,65.52 L555.39,63.69 L555.87,61.89 L556.35,60.10 L556.83,58.35 L557.31,56.61 L557.79,54.91 L558.27,53.24 L558.75,51.60 L559.23,49.99 L559.71,48.42 L560.19,46.88 L560.67,45.38 L561.16,43.93 L561.64,42.51 L562.12,41.14 L562.60,39.81 L563.08,38.53 L563.56,37.29 L564.04,36.10 L564.52,34.97 L565.00,33.88 L565.48,32.85 L565.96,31.87 L566.44,30.94 L566.92,30.07 L567.40,29.25 L567.88,28.49 L568.36,27.79 L568.84,27.15 L569.33,26.56 L569.81,26.04 L570.29,25.58 L570.77,25.17 L571.25,24.83 L571.73,24.55 L572.21,24.33 L572.69,24.18 L573.17,24.08 L573.65,24.05 L574.13,24.08 L574.61,24.17 L575.09,24.33 L575.57,24.55 L576.05,24.82 L576.53,25.16 L577.01,25.57 L577.49,26.03 L577.98,26.55 L578.46,27.13 L578.94,27.78 L579.42,28.48 L579.90,29.23 L580.38,30.05 L580.86,30.92 L581.34,31.84 L581.82,32.82 L582.30,33.86 L582.78,34.94 L583.26,36.08 L583.74,37.26 L584.22,38.50 L584.70,39.78 L585.18,41.11 L585.66,42.48 L586.14,43.89 L586.63,45.35 L587.11,46.85 L587.59,48.38 L588.07,49.95 L588.55,51.56 L589.03,53.20 L589.51,54.87 L589.99,56.58 L590.47,58.31 L590.95,60.06 L591.43,61.84 L591.91,63.65 L592.39,65.47 L592.87,67.32 L593.35,69.18 L593.83,71.05 L594.31,72.94 L594.80,74.84 L595.28,76.75 L595.76,78.67 L596.24,80.59 L596.72,82.51 L597.20,84.44 L597.68,86.36 L598.16,88.29 L598.64,90.20 L599.12,92.11 L599.60,94.01 L600.08,95.90 L600.56,97.78 L601.04,99.64 L601.52,101.48 L602.00,103.31 L602.48,105.11 L602.96,106.89 L603.45,108.65 L603.93,110.38 L604.41,112.09 L604.89,113.76 L605.37,115.40 L605.85,117.01 L606.33,118.58 L606.81,120.12 L607.29,121.61 L607.77,123.07 L608.25,124.49 L608.73,125.86 L609.21,127.19 L609.69,128.47 L610.17,129.71 L610.65,130.89 L611.13,132.03 L611.61,133.12 L612.10,134.15 L612.58,135.13 L613.06,136.06 L613.54,136.93 L614.02,137.75 L614.50,138.51 L614.98,139.21 L615.46,139.85 L615.94,140.44 L616.42,140.96 L616.90,141.42 L617.38,141.83 L617.86,142.17 L618.34,142.45 L618.82,142.67 L619.30,142.82 L619.78,142.92 L620.27,142.95 L620.75,142.92 L621.23,142.83 L621.71,142.67 L622.19,142.45 L622.67,142.18 L623.15,141.84 L623.63,141.43 L624.11,140.97 L624.59,140.45 L625.07,139.87 L625.55,139.23 L626.03,138.53 L626.51,137.77 L626.99,136.95 L627.47,136.08 L627.95,135.16 L628.43,134.18 L628.92,133.14 L629.40,132.06 L629.88,130.92 L630.36,129.74 L630.84,128.50 L631.32,127.22 L631.80,125.89 L632.28,124.52 L632.76,123.11 L633.24,121.65 L633.72,120.15 L634.20,118.62 L634.68,117.05 L635.16,115.44 L635.64,113.80 L636.12,112.13 L636.60,110.43 L637.08,108.70 L637.57,106.94 L638.05,105.16 L638.53,103.35 L639.01,101.53 L639.49,99.68 L639.97,97.82 L640.45,95.95 L640.93,94.06 L641.41,92.16 L641.89,90.25 L642.37,88.33 L642.85,86.41 L643.33,84.49 L643.81,82.56 L644.29,80.64 L644.77,78.72 L645.25,76.80 L645.74,74.89 L646.22,72.99 L646.70,71.10 L647.18,69.23 L647.66,67.36 L648.14,65.52 L648.62,63.69 L649.10,61.89 L649.58,60.11 L650.06,58.35 L650.54,56.62 L651.02,54.92 L651.50,53.24 L651.98,51.60 L652.46,49.99 L652.94,48.42 L653.42,46.89 L653.90,45.39 L654.39,43.93 L654.87,42.51 L655.35,41.14 L655.83,39.81 L656.31,38.53 L656.79,37.29 L657.27,36.11 L657.75,34.97 L658.23,33.88 L658.71,32.85 L659.19,31.87 L659.67,30.94 L660.15,30.07 L660.63,29.25 L661.11,28.49 L661.59,27.79 L662.07,27.15 L662.56,26.57 L663.04,26.04 L663.52,25.58 L664.00,25.17 L664.48,24.83 L664.96,24.55 L665.44,24.33 L665.92,24.18 L666.40,24.08 L666.88,24.05 L667.36,24.08 L667.84,24.17 L668.32,24.33 L668.80,24.54 L669.28,24.82 L669.76,25.16 L670.24,25.57 L670.72,26.03 L671.21,26.55 L671.69,27.13 L672.17,27.77 L672.65,28.47 L673.13,29.23 L673.61,30.05 L674.09,30.92 L674.57,31.84 L675.05,32.82 L675.53,33.85 L676.01,34.94 L676.49,36.08 L676.97,37.26 L677.45,38.50 L677.93,39.78 L678.41,41.10 L678.89,42.48 L679.37,43.89 L679.86,45.35 L680.34,46.84 L680.82,48.38 L681.30,49.95 L681.78,51.56 L682.26,53.20 L682.74,54.87 L683.22,56.57 L683.70,58.30" fill="none" stroke="#0072BD" stroke-width="2.1" stroke-dasharray="7.6 1.6 4.2 1.6"/>
<path d="M107.50,98.71 L107.98,98.71 L108.46,98.72 L108.94,98.74 L109.42,98.76 L109.90,98.79 L110.38,98.83 L110.86,98.88 L111.34,98.93 L111.83,98.99 L112.31,99.05 L112.79,99.12 L113.27,99.20 L113.75,99.28 L114.23,99.37 L114.71,99.46 L115.19,99.56 L115.67,99.67 L116.15,99.78 L116.63,99.89 L117.11,100.01 L117.59,100.13 L118.07,100.25 L118.55,100.38 L119.03,100.51 L119.51,100.64 L119.99,100.78 L120.48,100.92 L120.96,101.05 L121.44,101.19 L121.92,101.33 L122.40,101.47 L122.88,101.61 L123.36,101.75 L123.84,101.89 L124.32,102.03 L124.80,102.17 L125.28,102.30 L125.76,102.43 L126.24,102.56 L126.72,102.68 L127.20,102.80 L127.68,102.92 L128.16,103.03 L128.64,103.13 L129.13,103.23 L129.61,103.32 L130.09,103.41 L130.57,103.48 L131.05,103.55 L131.53,103.62 L132.01,103.67 L132.49,103.71 L132.97,103.75 L133.45,103.77 L133.93,103.79 L134.41,103.79 L134.89,103.78 L135.37,103.76 L135.85,103.73 L136.33,103.68 L136.81,103.63 L137.30,103.56 L137.78,103.47 L138.26,103.37 L138.74,103.26 L139.22,103.13 L139.70,102.99 L140.18,102.83 L140.66,102.66 L141.14,102.47 L141.62,102.27 L142.10,102.05 L142.58,101.81 L143.06,101.56 L143.54,101.29 L144.02,101.00 L144.50,100.69 L144.98,100.37 L145.46,100.03 L145.95,99.67 L146.43,99.30 L146.91,98.91 L147.39,98.50 L147.87,98.07 L148.35,97.62 L148.83,97.16 L149.31,96.68 L149.79,96.18 L150.27,95.66 L150.75,95.12 L151.23,94.57 L151.71,94.00 L152.19,93.42 L152.67,92.81 L153.15,92.19 L153.63,91.55 L154.12,90.90 L154.60,90.23 L155.08,89.55 L155.56,88.85 L156.04,88.13 L156.52,87.40 L157.00,86.65 L157.48,85.89 L157.96,85.12 L158.44,84.33 L158.92,83.53 L159.40,82.72 L159.88,81.90 L160.36,81.06 L160.84,80.22 L161.32,79.36 L161.80,78.49 L162.28,77.62 L162.77,76.73 L163.25,75.84 L163.73,74.94 L164.21,74.03 L164.69,73.11 L165.17,72.19 L165.65,71.27 L166.13,70.34 L166.61,69.41 L167.09,68.47 L167.57,67.53 L168.05,66.59 L168.53,65.65 L169.01,64.71 L169.49,63.76 L169.97,62.82 L170.45,61.89 L170.93,60.95 L171.42,60.02 L171.90,59.09 L172.38,58.17 L172.86,57.25 L173.34,56.34 L173.82,55.44 L174.30,54.54 L174.78,53.65 L175.26,52.78 L175.74,51.91 L176.22,51.06 L176.70,50.21 L177.18,49.38 L177.66,48.57 L178.14,47.76 L178.62,46.98 L179.10,46.20 L179.59,45.45 L180.07,44.71 L180.55,43.99 L181.03,43.29 L181.51,42.60 L181.99,41.94 L182.47,41.30 L182.95,40.68 L183.43,40.08 L183.91,39.50 L184.39,38.95 L184.87,38.42 L185.35,37.91 L185.83,37.43 L186.31,36.98 L186.79,36.55 L187.27,36.15 L187.75,35.77 L188.24,35.42 L188.72,35.11 L189.20,34.81 L189.68,34.55 L190.16,34.32 L190.64,34.12 L191.12,33.94 L191.60,33.80 L192.08,33.69 L192.56,33.61 L193.04,33.56 L193.52,33.54 L194.00,33.55 L194.48,33.59 L194.96,33.67 L195.44,33.78 L195.92,33.92 L196.40,34.09 L196.89,34.30 L197.37,34.54 L197.85,34.81 L198.33,35.11 L198.81,35.44 L199.29,35.81 L199.77,36.21 L200.25,36.64 L200.73,37.11 L201.21,37.60 L201.69,38.13 L202.17,38.69 L202.65,39.27 L203.13,39.89 L203.61,40.54 L204.09,41.22 L204.57,41.93 L205.06,42.67 L205.54,43.44 L206.02,44.24 L206.50,45.06 L206.98,45.92 L207.46,46.80 L207.94,47.70 L208.42,48.63 L208.90,49.59 L209.38,50.57 L209.86,51.58 L210.34,52.61 L210.82,53.66 L211.30,54.73 L211.78,55.83 L212.26,56.95 L212.74,58.08 L213.22,59.24 L213.71,60.41 L214.19,61.61 L214.67,62.82 L215.15,64.04 L215.63,65.28 L216.11,66.53 L216.59,67.80 L217.07,69.08 L217.55,70.38 L218.03,71.68 L218.51,72.99 L218.99,74.31 L219.47,75.64 L219.95,76.98 L220.43,78.33 L220.91,79.67 L221.39,81.03 L221.87,82.38 L222.36,83.74 L222.84,85.10 L223.32,86.46 L223.80,87.82 L224.28,89.18 L224.76,90.54 L225.24,91.89 L225.72,93.24 L226.20,94.58 L226.68,95.92 L227.16,97.24 L227.64,98.57 L228.12,99.88 L228.60,101.18 L229.08,102.47 L229.56,103.75 L230.04,105.01 L230.53,106.26 L231.01,107.50 L231.49,108.72 L231.97,109.93 L232.45,111.12 L232.93,112.28 L233.41,113.44 L233.89,114.57 L234.37,115.68 L234.85,116.77 L235.33,117.83 L235.81,118.88 L236.29,119.90 L236.77,120.89 L237.25,121.87 L237.73,122.81 L238.21,123.73 L238.69,124.63 L239.18,125.49 L239.66,126.33 L240.14,127.14 L240.62,127.92 L241.10,128.67 L241.58,129.39 L242.06,130.08 L242.54,130.74 L243.02,131.36 L243.50,131.96 L243.98,132.52 L244.46,133.05 L244.94,133.55 L245.42,134.02 L245.90,134.45 L246.38,134.85 L246.86,135.21 L247.35,135.54 L247.83,135.84 L248.31,136.10 L248.79,136.33 L249.27,136.53 L249.75,136.69 L250.23,136.81 L250.71,136.91 L251.19,136.96 L251.67,136.99 L252.15,136.98 L252.63,136.93 L253.11,136.85 L253.59,136.74 L254.07,136.60 L254.55,136.42 L255.03,136.21 L255.51,135.97 L256.00,135.69 L256.48,135.38 L256.96,135.04 L257.44,134.67 L257.92,134.27 L258.40,133.84 L258.88,133.38 L259.36,132.89 L259.84,132.37 L260.32,131.83 L260.80,131.25 L261.28,130.65 L261.76,130.02 L262.24,129.37 L262.72,128.68 L263.20,127.98 L263.68,127.25 L264.16,126.50 L264.65,125.72 L265.13,124.92 L265.61,124.11 L266.09,123.27 L266.57,122.41 L267.05,121.53 L267.53,120.63 L268.01,119.72 L268.49,118.78 L268.97,117.84 L269.45,116.87 L269.93,115.90 L270.41,114.91 L270.89,113.90 L271.37,112.89 L271.85,111.86 L272.33,110.82 L272.82,109.78 L273.30,108.72 L273.78,107.66 L274.26,106.59 L274.74,105.51 L275.22,104.43 L275.70,103.34 L276.18,102.26 L276.66,101.16 L277.14,100.07 L277.62,98.97 L278.10,97.88 L278.58,96.78 L279.06,95.69 L279.54,94.60 L280.02,93.51 L280.50,92.43 L280.98,91.35 L281.47,90.27 L281.95,89.20 L282.43,88.14 L282.91,87.09 L283.39,86.04 L283.87,85.00 L284.35,83.98 L284.83,82.96 L285.31,81.95 L285.79,80.96 L286.27,79.98 L286.75,79.01 L287.23,78.05 L287.71,77.11 L288.19,76.18 L288.67,75.27 L289.15,74.37 L289.63,73.49 L290.12,72.62 L290.60,71.78 L291.08,70.95 L291.56,70.13 L292.04,69.34 L292.52,68.56 L293.00,67.81 L293.48,67.07 L293.96,66.35 L294.44,65.66 L294.92,64.98 L295.40,64.32 L295.88,63.69 L296.36,63.07 L296.84,62.48 L297.32,61.91 L297.80,61.36 L298.29,60.83 L298.77,60.32 L299.25,59.84 L299.73,59.37 L300.21,58.93 L300.69,58.51 L301.17,58.11 L301.65,57.73 L302.13,57.38 L302.61,57.05 L303.09,56.73 L303.57,56.44 L304.05,56.17 L304.53,55.93 L305.01,55.70 L305.49,55.49 L305.97,55.31 L306.45,55.14 L306.94,55.00 L307.42,54.87 L307.90,54.77 L308.38,54.68 L308.86,54.61 L309.34,54.56 L309.82,54.53 L310.30,54.52 L310.78,54.53 L311.26,54.55 L311.74,54.59 L312.22,54.64 L312.70,54.71 L313.18,54.80 L313.66,54.90 L314.14,55.02 L314.62,55.15 L315.11,55.29 L315.59,55.45 L316.07,55.62 L316.55,55.80 L317.03,56.00 L317.51,56.20 L317.99,56.42 L318.47,56.64 L318.95,56.88 L319.43,57.13 L319.91,57.38 L320.39,57.64 L320.87,57.91 L321.35,58.19 L321.83,58.47 L322.31,58.76 L322.79,59.05 L323.27,59.35 L323.76,59.66 L324.24,59.97 L324.72,60.28 L325.20,60.59 L325.68,60.91 L326.16,61.23 L326.64,61.55 L327.12,61.87 L327.60,62.20 L328.08,62.52 L328.56,62.84 L329.04,63.16 L329.52,63.48 L330.00,63.80 L330.48,64.12 L330.96,64.43 L331.44,64.74 L331.92,65.05 L332.41,65.36 L332.89,65.66 L333.37,65.95 L333.85,66.25 L334.33,66.53 L334.81,66.81 L335.29,67.09 L335.77,67.36 L336.25,67.63 L336.73,67.88 L337.21,68.14 L337.69,68.38 L338.17,68.62 L338.65,68.85 L339.13,69.08 L339.61,69.29 L340.09,69.50 L340.58,69.70 L341.06,69.90 L341.54,70.09 L342.02,70.27 L342.50,70.44 L342.98,70.60 L343.46,70.76 L343.94,70.90 L344.42,71.04 L344.90,71.18 L345.38,71.30 L345.86,71.42 L346.34,71.53 L346.82,71.63 L347.30,71.73 L347.78,71.82 L348.26,71.90 L348.74,71.97 L349.23,72.04 L349.71,72.10 L350.19,72.16 L350.67,72.21 L351.15,72.25 L351.63,72.29 L352.11,72.32 L352.59,72.35 L353.07,72.38 L353.55,72.40 L354.03,72.41 L354.51,72.42 L354.99,72.43 L355.47,72.44 L355.95,72.44 L356.43,72.44 L356.91,72.44 L357.39,72.44 L357.88,72.43 L358.36,72.43 L358.84,72.43 L359.32,72.42 L359.80,72.42 L360.28,72.41 L360.76,72.41 L361.24,72.41 L361.72,72.41 L362.20,72.42 L362.68,72.42 L363.16,72.43 L363.64,72.45 L364.12,72.47 L364.60,72.49 L365.08,72.52 L365.56,72.55 L366.05,72.59 L366.53,72.64 L367.01,72.69 L367.49,72.75 L367.97,72.82 L368.45,72.89 L368.93,72.98 L369.41,73.07 L369.89,73.17 L370.37,73.28 L370.85,73.40 L371.33,73.53 L371.81,73.67 L372.29,73.82 L372.77,73.98 L373.25,74.15 L373.73,74.34 L374.21,74.53 L374.70,74.74 L375.18,74.96 L375.66,75.19 L376.14,75.44 L376.62,75.70 L377.10,75.97 L377.58,76.25 L378.06,76.55 L378.54,76.86 L379.02,77.19 L379.50,77.52 L379.98,77.88 L380.46,78.24 L380.94,78.62 L381.42,79.02 L381.90,79.43 L382.38,79.85 L382.86,80.28 L383.35,80.73 L383.83,81.20 L384.31,81.68 L384.79,82.17 L385.27,82.67 L385.75,83.19 L386.23,83.72 L386.71,84.26 L387.19,84.82 L387.67,85.39 L388.15,85.97 L388.63,86.57 L389.11,87.17 L389.59,87.79 L390.07,88.42 L390.55,89.06 L391.03,89.71 L391.52,90.37 L392.00,91.04 L392.48,91.72 L392.96,92.40 L393.44,93.10 L393.92,93.81 L394.40,94.52 L394.88,95.24 L395.36,95.97 L395.84,96.70 L396.32,97.44 L396.80,98.18 L397.28,98.93 L397.76,99.68 L398.24,100.44 L398.72,101.20 L399.20,101.96 L399.68,102.72 L400.17,103.48 L400.65,104.25 L401.13,105.01 L401.61,105.77 L402.09,106.53 L402.57,107.29 L403.05,108.05 L403.53,108.80 L404.01,109.55 L404.49,110.30 L404.97,111.03 L405.45,111.77 L405.93,112.49 L406.41,113.21 L406.89,113.92 L407.37,114.62 L407.85,115.31 L408.34,115.99 L408.82,116.66 L409.30,117.31 L409.78,117.96 L410.26,118.59 L410.74,119.21 L411.22,119.81 L411.70,120.40 L412.18,120.97 L412.66,121.52 L413.14,122.06 L413.62,122.58 L414.10,123.09 L414.58,123.57 L415.06,124.03 L415.54,124.48 L416.02,124.90 L416.50,125.30 L416.99,125.68 L417.47,126.04 L417.95,126.37 L418.43,126.68 L418.91,126.97 L419.39,127.23 L419.87,127.46 L420.35,127.68 L420.83,127.86 L421.31,128.02 L421.79,128.16 L422.27,128.26 L422.75,128.34 L423.23,128.39 L423.71,128.41 L424.19,128.41 L424.67,128.38 L425.15,128.31 L425.64,128.22 L426.12,128.10 L426.60,127.95 L427.08,127.78 L427.56,127.57 L428.04,127.33 L428.52,127.06 L429.00,126.76 L429.48,126.44 L429.96,126.08 L430.44,125.69 L430.92,125.28 L431.40,124.83 L431.88,124.36 L432.36,123.85 L432.84,123.32 L433.32,122.75 L433.81,122.16 L434.29,121.54 L434.77,120.89 L435.25,120.21 L435.73,119.51 L436.21,118.78 L436.69,118.02 L437.17,117.23 L437.65,116.42 L438.13,115.58 L438.61,114.72 L439.09,113.83 L439.57,112.92 L440.05,111.98 L440.53,111.02 L441.01,110.04 L441.49,109.03 L441.97,108.00 L442.46,106.96 L442.94,105.89 L443.42,104.80 L443.90,103.69 L444.38,102.57 L444.86,101.42 L445.34,100.26 L445.82,99.09 L446.30,97.90 L446.78,96.69 L447.26,95.47 L447.74,94.24 L448.22,92.99 L448.70,91.74 L449.18,90.47 L449.66,89.20 L450.14,87.91 L450.62,86.62 L451.11,85.32 L451.59,84.02 L452.07,82.71 L452.55,81.40 L453.03,80.08 L453.51,78.76 L453.99,77.44 L454.47,76.12 L454.95,74.80 L455.43,73.48 L455.91,72.17 L456.39,70.85 L456.87,69.55 L457.35,68.24 L457.83,66.95 L458.31,65.66 L458.79,64.38 L459.28,63.11 L459.76,61.85 L460.24,60.60 L460.72,59.36 L461.20,58.13 L461.68,56.92 L462.16,55.72 L462.64,54.54 L463.12,53.37 L463.60,52.23 L464.08,51.10 L464.56,49.99 L465.04,48.89 L465.52,47.82 L466.00,46.77 L466.48,45.75 L466.96,44.74 L467.44,43.76 L467.93,42.80 L468.41,41.87 L468.89,40.97 L469.37,40.09 L469.85,39.23 L470.33,38.41 L470.81,37.61 L471.29,36.85 L471.77,36.11 L472.25,35.40 L472.73,34.72 L473.21,34.07 L473.69,33.46 L474.17,32.88 L474.65,32.32 L475.13,31.81 L475.61,31.32 L476.09,30.87 L476.58,30.45 L477.06,30.06 L477.54,29.71 L478.02,29.40 L478.50,29.12 L478.98,28.87 L479.46,28.66 L479.94,28.48 L480.42,28.34 L480.90,28.23 L481.38,28.16 L481.86,28.13 L482.34,28.12 L482.82,28.16 L483.30,28.23 L483.78,28.33 L484.26,28.47 L484.75,28.65 L485.23,28.86 L485.71,29.10 L486.19,29.38 L486.67,29.69 L487.15,30.03 L487.63,30.41 L488.11,30.82 L488.59,31.27 L489.07,31.74 L489.55,32.25 L490.03,32.79 L490.51,33.36 L490.99,33.96 L491.47,34.59 L491.95,35.24 L492.43,35.93 L492.91,36.65 L493.40,37.39 L493.88,38.16 L494.36,38.96 L494.84,39.78 L495.32,40.62 L495.80,41.49 L496.28,42.39 L496.76,43.31 L497.24,44.25 L497.72,45.21 L498.20,46.19 L498.68,47.19 L499.16,48.21 L499.64,49.24 L500.12,50.30 L500.60,51.37 L501.08,52.46 L501.57,53.56 L502.05,54.68 L502.53,55.80 L503.01,56.95 L503.49,58.10 L503.97,59.26 L504.45,60.43 L504.93,61.61 L505.41,62.80 L505.89,64.00 L506.37,65.20 L506.85,66.40 L507.33,67.61 L507.81,68.83 L508.29,70.04 L508.77,71.26 L509.25,72.48 L509.73,73.70 L510.22,74.91 L510.70,76.13 L511.18,77.34 L511.66,78.55 L512.14,79.75 L512.62,80.95 L513.10,82.14 L513.58,83.32 L514.06,84.49 L514.54,85.66 L515.02,86.82 L515.50,87.96 L515.98,89.10 L516.46,90.22 L516.94,91.34 L517.42,92.43 L517.90,93.52 L518.38,94.59 L518.87,95.64 L519.35,96.68 L519.83,97.70 L520.31,98.70 L520.79,99.69 L521.27,100.65 L521.75,101.60 L522.23,102.53 L522.71,103.44 L523.19,104.33 L523.67,105.19 L524.15,106.04 L524.63,106.86 L525.11,107.66 L525.59,108.44 L526.07,109.20 L526.55,109.93 L527.04,110.64 L527.52,111.32 L528.00,111.98 L528.48,112.62 L528.96,113.23 L529.44,113.81 L529.92,114.38 L530.40,114.91 L530.88,115.42 L531.36,115.91 L531.84,116.36 L532.32,116.80 L532.80,117.21 L533.28,117.59 L533.76,117.95 L534.24,118.28 L534.72,118.58 L535.20,118.86 L535.69,119.12 L536.17,119.35 L536.65,119.55 L537.13,119.73 L537.61,119.88 L538.09,120.01 L538.57,120.12 L539.05,120.20 L539.53,120.26 L540.01,120.29 L540.49,120.31 L540.97,120.30 L541.45,120.26 L541.93,120.21 L542.41,120.13 L542.89,120.03 L543.37,119.91 L543.85,119.77 L544.34,119.61 L544.82,119.43 L545.30,119.23 L545.78,119.01 L546.26,118.77 L546.74,118.52 L547.22,118.25 L547.70,117.96 L548.18,117.66 L548.66,117.34 L549.14,117.00 L549.62,116.65 L550.10,116.29 L550.58,115.91 L551.06,115.52 L551.54,115.12 L552.02,114.71 L552.51,114.28 L552.99,113.85 L553.47,113.41 L553.95,112.95 L554.43,112.49 L554.91,112.02 L555.39,111.54 L555.87,111.06 L556.35,110.57 L556.83,110.07 L557.31,109.57 L557.79,109.06 L558.27,108.55 L558.75,108.04 L559.23,107.52 L559.71,107.00 L560.19,106.48 L560.67,105.96 L561.16,105.44 L561.64,104.92 L562.12,104.40 L562.60,103.88 L563.08,103.36 L563.56,102.84 L564.04,102.33 L564.52,101.81 L565.00,101.31 L565.48,100.80 L565.96,100.30 L566.44,99.81 L566.92,99.32 L567.40,98.83 L567.88,98.35 L568.36,97.88 L568.84,97.41 L569.33,96.95 L569.81,96.50 L570.29,96.06 L570.77,95.62 L571.25,95.19 L571.73,94.77 L572.21,94.36 L572.69,93.95 L573.17,93.56 L573.65,93.17 L574.13,92.80 L574.61,92.43 L575.09,92.07 L575.57,91.72 L576.05,91.39 L576.53,91.06 L577.01,90.74 L577.49,90.43 L577.98,90.13 L578.46,89.84 L578.94,89.56 L579.42,89.29 L579.90,89.04 L580.38,88.79 L580.86,88.55 L581.34,88.32 L581.82,88.10 L582.30,87.88 L582.78,87.68 L583.26,87.49 L583.74,87.31 L584.22,87.13 L584.70,86.96 L585.18,86.80 L585.66,86.65 L586.14,86.51 L586.63,86.37 L587.11,86.25 L587.59,86.13 L588.07,86.01 L588.55,85.90 L589.03,85.80 L589.51,85.71 L589.99,85.61 L590.47,85.53 L590.95,85.45 L591.43,85.37 L591.91,85.30 L592.39,85.23 L592.87,85.16 L593.35,85.10 L593.83,85.04 L594.31,84.98 L594.80,84.93 L595.28,84.87 L595.76,84.82 L596.24,84.77 L596.72,84.71 L597.20,84.66 L597.68,84.60 L598.16,84.55 L598.64,84.49 L599.12,84.43 L599.60,84.37 L600.08,84.31 L600.56,84.24 L601.04,84.17 L601.52,84.10 L602.00,84.02 L602.48,83.94 L602.96,83.85 L603.45,83.76 L603.93,83.66 L604.41,83.55 L604.89,83.44 L605.37,83.33 L605.85,83.20 L606.33,83.07 L606.81,82.93 L607.29,82.78 L607.77,82.63 L608.25,82.46 L608.73,82.29 L609.21,82.11 L609.69,81.92 L610.17,81.72 L610.65,81.51 L611.13,81.29 L611.61,81.06 L612.10,80.82 L612.58,80.58 L613.06,80.32 L613.54,80.05 L614.02,79.77 L614.50,79.48 L614.98,79.18 L615.46,78.87 L615.94,78.54 L616.42,78.21 L616.90,77.87 L617.38,77.51 L617.86,77.15 L618.34,76.78 L618.82,76.39 L619.30,76.00 L619.78,75.59 L620.27,75.18 L620.75,74.75 L621.23,74.32 L621.71,73.87 L622.19,73.42 L622.67,72.96 L623.15,72.49 L623.63,72.01 L624.11,71.52 L624.59,71.03 L625.07,70.52 L625.55,70.01 L626.03,69.50 L626.51,68.97 L626.99,68.44 L627.47,67.91 L627.95,67.37 L628.43,66.82 L628.92,66.27 L629.40,65.72 L629.88,65.16 L630.36,64.60 L630.84,64.03 L631.32,63.47 L631.80,62.90 L632.28,62.33 L632.76,61.76 L633.24,61.19 L633.72,60.62 L634.20,60.06 L634.68,59.49 L635.16,58.93 L635.64,58.37 L636.12,57.81 L636.60,57.25 L637.08,56.70 L637.57,56.16 L638.05,55.62 L638.53,55.09 L639.01,54.57 L639.49,54.05 L639.97,53.54 L640.45,53.04 L640.93,52.55 L641.41,52.07 L641.89,51.60 L642.37,51.14 L642.85,50.69 L643.33,50.26 L643.81,49.84 L644.29,49.43 L644.77,49.04 L645.25,48.66 L645.74,48.30 L646.22,47.95 L646.70,47.62 L647.18,47.31 L647.66,47.01 L648.14,46.74 L648.62,46.48 L649.10,46.24 L649.58,46.02 L650.06,45.82 L650.54,45.64 L651.02,45.48 L651.50,45.35 L651.98,45.23 L652.46,45.14 L652.94,45.07 L653.42,45.02 L653.90,45.00 L654.39,45.00 L654.87,45.03 L655.35,45.08 L655.83,45.15 L656.31,45.25 L656.79,45.38 L657.27,45.53 L657.75,45.71 L658.23,45.91 L658.71,46.14 L659.19,46.39 L659.67,46.67 L660.15,46.98 L660.63,47.31 L661.11,47.67 L661.59,48.06 L662.07,48.47 L662.56,48.91 L663.04,49.37 L663.52,49.87 L664.00,50.38 L664.48,50.93 L664.96,51.50 L665.44,52.10 L665.92,52.72 L666.40,53.36 L666.88,54.04 L667.36,54.73 L667.84,55.46 L668.32,56.20 L668.80,56.97 L669.28,57.77 L669.76,58.59 L670.24,59.43 L670.72,60.29 L671.21,61.17 L671.69,62.08 L672.17,63.01 L672.65,63.95 L673.13,64.92 L673.61,65.91 L674.09,66.91 L674.57,67.94 L675.05,68.98 L675.53,70.04 L676.01,71.11 L676.49,72.21 L676.97,73.31 L677.45,74.43 L677.93,75.56 L678.41,76.71 L678.89,77.87 L679.37,79.04 L679.86,80.22 L680.34,81.41 L680.82,82.61 L681.30,83.82 L681.78,85.03 L682.26,86.25 L682.74,87.48 L683.22,88.71 L683.70,89.95" fill="none" stroke="#D95319" stroke-width="2"/>
<circle cx="136.31" cy="103.69" r="4.9" fill="#4D4D4D"/>
<circle cx="193.93" cy="33.55" r="4.9" fill="#4D4D4D"/>
<circle cx="251.55" cy="136.98" r="4.9" fill="#4D4D4D"/>
<circle cx="309.17" cy="54.58" r="4.9" fill="#4D4D4D"/>
<circle cx="366.79" cy="72.67" r="4.9" fill="#4D4D4D"/>
<circle cx="424.41" cy="128.40" r="4.9" fill="#4D4D4D"/>
<circle cx="482.03" cy="28.12" r="4.9" fill="#4D4D4D"/>
<circle cx="539.65" cy="120.27" r="4.9" fill="#4D4D4D"/>
<circle cx="597.27" cy="84.65" r="4.9" fill="#4D4D4D"/>
<circle cx="654.89" cy="45.03" r="4.9" fill="#4D4D4D"/>
</g>
<g clip-path="url(#cb)">
<path d="M107.50,197.55 L107.98,197.58 L108.46,197.67 L108.94,197.82 L109.42,198.04 L109.90,198.31 L110.38,198.65 L110.86,199.04 L111.34,199.50 L111.83,200.01 L112.31,200.59 L112.79,201.22 L113.27,201.91 L113.75,202.65 L114.23,203.45 L114.71,204.31 L115.19,205.22 L115.67,206.19 L116.15,207.20 L116.63,208.27 L117.11,209.39 L117.59,210.55 L118.07,211.77 L118.55,213.03 L119.03,214.33 L119.51,215.68 L119.99,217.08 L120.48,218.51 L120.96,219.98 L121.44,221.49 L121.92,223.04 L122.40,224.62 L122.88,226.23 L123.36,227.87 L123.84,229.55 L124.32,231.25 L124.80,232.98 L125.28,234.73 L125.76,236.50 L126.24,238.30 L126.72,240.11 L127.20,241.94 L127.68,243.78 L128.16,245.64 L128.64,247.51 L129.13,249.39 L129.61,251.27 L130.09,253.16 L130.57,255.05 L131.05,256.95 L131.53,258.84 L132.01,260.73 L132.49,262.61 L132.97,264.49 L133.45,266.36 L133.93,268.21 L134.41,270.06 L134.89,271.89 L135.37,273.70 L135.85,275.50 L136.33,277.27 L136.81,279.02 L137.30,280.75 L137.78,282.45 L138.26,284.12 L138.74,285.77 L139.22,287.38 L139.70,288.96 L140.18,290.51 L140.66,292.02 L141.14,293.49 L141.62,294.92 L142.10,296.31 L142.58,297.66 L143.06,298.97 L143.54,300.23 L144.02,301.44 L144.50,302.61 L144.98,303.73 L145.46,304.80 L145.95,305.81 L146.43,306.78 L146.91,307.69 L147.39,308.54 L147.87,309.35 L148.35,310.09 L148.83,310.78 L149.31,311.41 L149.79,311.99 L150.27,312.50 L150.75,312.96 L151.23,313.35 L151.71,313.69 L152.19,313.96 L152.67,314.18 L153.15,314.33 L153.63,314.42 L154.12,314.45 L154.60,314.42 L155.08,314.33 L155.56,314.18 L156.04,313.96 L156.52,313.69 L157.00,313.35 L157.48,312.96 L157.96,312.50 L158.44,311.99 L158.92,311.41 L159.40,310.78 L159.88,310.09 L160.36,309.35 L160.84,308.55 L161.32,307.69 L161.80,306.78 L162.28,305.81 L162.77,304.80 L163.25,303.73 L163.73,302.61 L164.21,301.45 L164.69,300.23 L165.17,298.97 L165.65,297.67 L166.13,296.32 L166.61,294.93 L167.09,293.49 L167.57,292.02 L168.05,290.51 L168.53,288.97 L169.01,287.39 L169.49,285.77 L169.97,284.13 L170.45,282.45 L170.93,280.75 L171.42,279.03 L171.90,277.27 L172.38,275.50 L172.86,273.70 L173.34,271.89 L173.82,270.06 L174.30,268.22 L174.78,266.36 L175.26,264.49 L175.74,262.61 L176.22,260.73 L176.70,258.84 L177.18,256.95 L177.66,255.06 L178.14,253.16 L178.62,251.28 L179.10,249.39 L179.59,247.51 L180.07,245.65 L180.55,243.79 L181.03,241.94 L181.51,240.11 L181.99,238.30 L182.47,236.51 L182.95,234.73 L183.43,232.98 L183.91,231.25 L184.39,229.55 L184.87,227.88 L185.35,226.23 L185.83,224.62 L186.31,223.04 L186.79,221.49 L187.27,219.98 L187.75,218.51 L188.24,217.08 L188.72,215.69 L189.20,214.34 L189.68,213.03 L190.16,211.77 L190.64,210.56 L191.12,209.39 L191.60,208.27 L192.08,207.21 L192.56,206.19 L193.04,205.22 L193.52,204.31 L194.00,203.46 L194.48,202.66 L194.96,201.91 L195.44,201.22 L195.92,200.59 L196.40,200.02 L196.89,199.50 L197.37,199.05 L197.85,198.65 L198.33,198.31 L198.81,198.04 L199.29,197.82 L199.77,197.67 L200.25,197.58 L200.73,197.55 L201.21,197.58 L201.69,197.67 L202.17,197.82 L202.65,198.04 L203.13,198.31 L203.61,198.65 L204.09,199.04 L204.57,199.50 L205.06,200.01 L205.54,200.59 L206.02,201.22 L206.50,201.91 L206.98,202.65 L207.46,203.45 L207.94,204.31 L208.42,205.22 L208.90,206.18 L209.38,207.20 L209.86,208.27 L210.34,209.39 L210.82,210.55 L211.30,211.77 L211.78,213.03 L212.26,214.33 L212.74,215.68 L213.22,217.07 L213.71,218.51 L214.19,219.98 L214.67,221.49 L215.15,223.03 L215.63,224.61 L216.11,226.23 L216.59,227.87 L217.07,229.54 L217.55,231.25 L218.03,232.97 L218.51,234.72 L218.99,236.50 L219.47,238.29 L219.95,240.11 L220.43,241.94 L220.91,243.78 L221.39,245.64 L221.87,247.51 L222.36,249.38 L222.84,251.27 L223.32,253.16 L223.80,255.05 L224.28,256.94 L224.76,258.83 L225.24,260.72 L225.72,262.61 L226.20,264.48 L226.68,266.35 L227.16,268.21 L227.64,270.05 L228.12,271.88 L228.60,273.70 L229.08,275.49 L229.56,277.27 L230.04,279.02 L230.53,280.75 L231.01,282.45 L231.49,284.12 L231.97,285.77 L232.45,287.38 L232.93,288.96 L233.41,290.51 L233.89,292.01 L234.37,293.49 L234.85,294.92 L235.33,296.31 L235.81,297.66 L236.29,298.97 L236.77,300.23 L237.25,301.44 L237.73,302.61 L238.21,303.73 L238.69,304.79 L239.18,305.81 L239.66,306.77 L240.14,307.69 L240.62,308.54 L241.10,309.34 L241.58,310.09 L242.06,310.78 L242.54,311.41 L243.02,311.98 L243.50,312.50 L243.98,312.95 L244.46,313.35 L244.94,313.69 L245.42,313.96 L245.90,314.18 L246.38,314.33 L246.86,314.42 L247.35,314.45 L247.83,314.42 L248.31,314.33 L248.79,314.18 L249.27,313.96 L249.75,313.69 L250.23,313.35 L250.71,312.96 L251.19,312.50 L251.67,311.99 L252.15,311.41 L252.63,310.78 L253.11,310.09 L253.59,309.35 L254.07,308.55 L254.55,307.69 L255.03,306.78 L255.51,305.82 L256.00,304.80 L256.48,303.73 L256.96,302.62 L257.44,301.45 L257.92,300.24 L258.40,298.98 L258.88,297.67 L259.36,296.32 L259.84,294.93 L260.32,293.50 L260.80,292.02 L261.28,290.52 L261.76,288.97 L262.24,287.39 L262.72,285.78 L263.20,284.13 L263.68,282.46 L264.16,280.76 L264.65,279.03 L265.13,277.28 L265.61,275.50 L266.09,273.71 L266.57,271.90 L267.05,270.07 L267.53,268.22 L268.01,266.36 L268.49,264.50 L268.97,262.62 L269.45,260.74 L269.93,258.85 L270.41,256.95 L270.89,255.06 L271.37,253.17 L271.85,251.28 L272.33,249.40 L272.82,247.52 L273.30,245.65 L273.78,243.79 L274.26,241.95 L274.74,240.12 L275.22,238.31 L275.70,236.51 L276.18,234.74 L276.66,232.98 L277.14,231.26 L277.62,229.56 L278.10,227.88 L278.58,226.24 L279.06,224.62 L279.54,223.04 L280.02,221.50 L280.50,219.99 L280.98,218.51 L281.47,217.08 L281.95,215.69 L282.43,214.34 L282.91,213.04 L283.39,211.77 L283.87,210.56 L284.35,209.39 L284.83,208.28 L285.31,207.21 L285.79,206.19 L286.27,205.23 L286.75,204.32 L287.23,203.46 L287.71,202.66 L288.19,201.91 L288.67,201.22 L289.15,200.59 L289.63,200.02 L290.12,199.50 L290.60,199.05 L291.08,198.65 L291.56,198.31 L292.04,198.04 L292.52,197.83 L293.00,197.67 L293.48,197.58 L293.96,197.55 L294.44,197.58 L294.92,197.67 L295.40,197.82 L295.88,198.04 L296.36,198.31 L296.84,198.65 L297.32,199.04 L297.80,199.50 L298.29,200.01 L298.77,200.58 L299.25,201.22 L299.73,201.90 L300.21,202.65 L300.69,203.45 L301.17,204.31 L301.65,205.22 L302.13,206.18 L302.61,207.20 L303.09,208.27 L303.57,209.38 L304.05,210.55 L304.53,211.76 L305.01,213.02 L305.49,214.33 L305.97,215.68 L306.45,217.07 L306.94,218.50 L307.42,219.97 L307.90,221.48 L308.38,223.03 L308.86,224.61 L309.34,226.22 L309.82,227.87 L310.30,229.54 L310.78,231.24 L311.26,232.97 L311.74,234.72 L312.22,236.49 L312.70,238.29 L313.18,240.10 L313.66,241.93 L314.14,243.78 L314.62,245.63 L315.11,247.50 L315.59,249.38 L316.07,251.26 L316.55,253.15 L317.03,255.04 L317.51,256.94 L317.99,258.83 L318.47,260.72 L318.95,262.60 L319.43,264.48 L319.91,266.35 L320.39,268.20 L320.87,270.05 L321.35,271.88 L321.83,273.69 L322.31,275.49 L322.79,277.26 L323.27,279.01 L323.76,280.74 L324.24,282.44 L324.72,284.12 L325.20,285.76 L325.68,287.38 L326.16,288.96 L326.64,290.50 L327.12,292.01 L327.60,293.48 L328.08,294.92 L328.56,296.31 L329.04,297.66 L329.52,298.96 L330.00,300.22 L330.48,301.44 L330.96,302.61 L331.44,303.72 L331.92,304.79 L332.41,305.81 L332.89,306.77 L333.37,307.68 L333.85,308.54 L334.33,309.34 L334.81,310.09 L335.29,310.78 L335.77,311.41 L336.25,311.98 L336.73,312.50 L337.21,312.95 L337.69,313.35 L338.17,313.68 L338.65,313.96 L339.13,314.17 L339.61,314.33 L340.09,314.42 L340.58,314.45 L341.06,314.42 L341.54,314.33 L342.02,314.18 L342.50,313.96 L342.98,313.69 L343.46,313.35 L343.94,312.96 L344.42,312.50 L344.90,311.99 L345.38,311.42 L345.86,310.78 L346.34,310.10 L346.82,309.35 L347.30,308.55 L347.78,307.69 L348.26,306.78 L348.74,305.82 L349.23,304.80 L349.71,303.74 L350.19,302.62 L350.67,301.45 L351.15,300.24 L351.63,298.98 L352.11,297.67 L352.59,296.32 L353.07,294.93 L353.55,293.50 L354.03,292.03 L354.51,290.52 L354.99,288.97 L355.47,287.39 L355.95,285.78 L356.43,284.14 L356.91,282.46 L357.39,280.76 L357.88,279.03 L358.36,277.28 L358.84,275.51 L359.32,273.71 L359.80,271.90 L360.28,270.07 L360.76,268.23 L361.24,266.37 L361.72,264.50 L362.20,262.62 L362.68,260.74 L363.16,258.85 L363.64,256.96 L364.12,255.07 L364.60,253.17 L365.08,251.28 L365.56,249.40 L366.05,247.52 L366.53,245.65 L367.01,243.80 L367.49,241.95 L367.97,240.12 L368.45,238.31 L368.93,236.51 L369.41,234.74 L369.89,232.99 L370.37,231.26 L370.85,229.56 L371.33,227.88 L371.81,226.24 L372.29,224.63 L372.77,223.05 L373.25,221.50 L373.73,219.99 L374.21,218.52 L374.70,217.09 L375.18,215.69 L375.66,214.34 L376.14,213.04 L376.62,211.78 L377.10,210.56 L377.58,209.40 L378.06,208.28 L378.54,207.21 L379.02,206.19 L379.50,205.23 L379.98,204.32 L380.46,203.46 L380.94,202.66 L381.42,201.91 L381.90,201.22 L382.38,200.59 L382.86,200.02 L383.35,199.50 L383.83,199.05 L384.31,198.65 L384.79,198.32 L385.27,198.04 L385.75,197.83 L386.23,197.67 L386.71,197.58 L387.19,197.55 L387.67,197.58 L388.15,197.67 L388.63,197.82 L389.11,198.04 L389.59,198.31 L390.07,198.65 L390.55,199.04 L391.03,199.50 L391.52,200.01 L392.00,200.58 L392.48,201.21 L392.96,201.90 L393.44,202.65 L393.92,203.45 L394.40,204.31 L394.88,205.22 L395.36,206.18 L395.84,207.20 L396.32,208.26 L396.80,209.38 L397.28,210.55 L397.76,211.76 L398.24,213.02 L398.72,214.33 L399.20,215.67 L399.68,217.07 L400.17,218.50 L400.65,219.97 L401.13,221.48 L401.61,223.02 L402.09,224.60 L402.57,226.22 L403.05,227.86 L403.53,229.54 L404.01,231.24 L404.49,232.96 L404.97,234.72 L405.45,236.49 L405.93,238.28 L406.41,240.10 L406.89,241.93 L407.37,243.77 L407.85,245.63 L408.34,247.50 L408.82,249.37 L409.30,251.26 L409.78,253.15 L410.26,255.04 L410.74,256.93 L411.22,258.82 L411.70,260.71 L412.18,262.60 L412.66,264.47 L413.14,266.34 L413.62,268.20 L414.10,270.05 L414.58,271.88 L415.06,273.69 L415.54,275.48 L416.02,277.26 L416.50,279.01 L416.99,280.74 L417.47,282.44 L417.95,284.11 L418.43,285.76 L418.91,287.37 L419.39,288.95 L419.87,290.50 L420.35,292.01 L420.83,293.48 L421.31,294.91 L421.79,296.30 L422.27,297.65 L422.75,298.96 L423.23,300.22 L423.71,301.44 L424.19,302.60 L424.67,303.72 L425.15,304.79 L425.64,305.81 L426.12,306.77 L426.60,307.68 L427.08,308.54 L427.56,309.34 L428.04,310.09 L428.52,310.78 L429.00,311.41 L429.48,311.98 L429.96,312.50 L430.44,312.95 L430.92,313.35 L431.40,313.68 L431.88,313.96 L432.36,314.17 L432.84,314.33 L433.32,314.42 L433.81,314.45 L434.29,314.42 L434.77,314.33 L435.25,314.18 L435.73,313.96 L436.21,313.69 L436.69,313.35 L437.17,312.96 L437.65,312.50 L438.13,311.99 L438.61,311.42 L439.09,310.79 L439.57,310.10 L440.05,309.35 L440.53,308.55 L441.01,307.70 L441.49,306.79 L441.97,305.82 L442.46,304.81 L442.94,303.74 L443.42,302.62 L443.90,301.45 L444.38,300.24 L444.86,298.98 L445.34,297.68 L445.82,296.33 L446.30,294.94 L446.78,293.50 L447.26,292.03 L447.74,290.52 L448.22,288.98 L448.70,287.40 L449.18,285.78 L449.66,284.14 L450.14,282.47 L450.62,280.76 L451.11,279.04 L451.59,277.29 L452.07,275.51 L452.55,273.72 L453.03,271.90 L453.51,270.07 L453.99,268.23 L454.47,266.37 L454.95,264.50 L455.43,262.63 L455.91,260.74 L456.39,258.85 L456.87,256.96 L457.35,255.07 L457.83,253.18 L458.31,251.29 L458.79,249.40 L459.28,247.53 L459.76,245.66 L460.24,243.80 L460.72,241.96 L461.20,240.13 L461.68,238.31 L462.16,236.52 L462.64,234.74 L463.12,232.99 L463.60,231.26 L464.08,229.56 L464.56,227.89 L465.04,226.24 L465.52,224.63 L466.00,223.05 L466.48,221.50 L466.96,219.99 L467.44,218.52 L467.93,217.09 L468.41,215.70 L468.89,214.35 L469.37,213.04 L469.85,211.78 L470.33,210.57 L470.81,209.40 L471.29,208.28 L471.77,207.21 L472.25,206.20 L472.73,205.23 L473.21,204.32 L473.69,203.46 L474.17,202.66 L474.65,201.91 L475.13,201.22 L475.61,200.59 L476.09,200.02 L476.58,199.50 L477.06,199.05 L477.54,198.65 L478.02,198.32 L478.50,198.04 L478.98,197.83 L479.46,197.67 L479.94,197.58 L480.42,197.55 L480.90,197.58 L481.38,197.67 L481.86,197.82 L482.34,198.04 L482.82,198.31 L483.30,198.65 L483.78,199.04 L484.26,199.50 L484.75,200.01 L485.23,200.58 L485.71,201.21 L486.19,201.90 L486.67,202.65 L487.15,203.45 L487.63,204.30 L488.11,205.21 L488.59,206.18 L489.07,207.19 L489.55,208.26 L490.03,209.38 L490.51,210.54 L490.99,211.76 L491.47,213.02 L491.95,214.32 L492.43,215.67 L492.91,217.06 L493.40,218.50 L493.88,219.97 L494.36,221.48 L494.84,223.02 L495.32,224.60 L495.80,226.21 L496.28,227.86 L496.76,229.53 L497.24,231.23 L497.72,232.96 L498.20,234.71 L498.68,236.49 L499.16,238.28 L499.64,240.09 L500.12,241.92 L500.60,243.77 L501.08,245.63 L501.57,247.49 L502.05,249.37 L502.53,251.25 L503.01,253.14 L503.49,255.04 L503.97,256.93 L504.45,258.82 L504.93,260.71 L505.41,262.59 L505.89,264.47 L506.37,266.34 L506.85,268.20 L507.33,270.04 L507.81,271.87 L508.29,273.68 L508.77,275.48 L509.25,277.25 L509.73,279.01 L510.22,280.73 L510.70,282.44 L511.18,284.11 L511.66,285.75 L512.14,287.37 L512.62,288.95 L513.10,290.49 L513.58,292.00 L514.06,293.48 L514.54,294.91 L515.02,296.30 L515.50,297.65 L515.98,298.96 L516.46,300.22 L516.94,301.43 L517.42,302.60 L517.90,303.72 L518.38,304.79 L518.87,305.80 L519.35,306.77 L519.83,307.68 L520.31,308.54 L520.79,309.34 L521.27,310.08 L521.75,310.77 L522.23,311.41 L522.71,311.98 L523.19,312.50 L523.67,312.95 L524.15,313.35 L524.63,313.68 L525.11,313.96 L525.59,314.17 L526.07,314.33 L526.55,314.42 L527.04,314.45 L527.52,314.42 L528.00,314.33 L528.48,314.18 L528.96,313.96 L529.44,313.69 L529.92,313.36 L530.40,312.96 L530.88,312.51 L531.36,311.99 L531.84,311.42 L532.32,310.79 L532.80,310.10 L533.28,309.35 L533.76,308.55 L534.24,307.70 L534.72,306.79 L535.20,305.82 L535.69,304.81 L536.17,303.74 L536.65,302.62 L537.13,301.46 L537.61,300.24 L538.09,298.98 L538.57,297.68 L539.05,296.33 L539.53,294.94 L540.01,293.51 L540.49,292.04 L540.97,290.53 L541.45,288.98 L541.93,287.40 L542.41,285.79 L542.89,284.14 L543.37,282.47 L543.85,280.77 L544.34,279.04 L544.82,277.29 L545.30,275.52 L545.78,273.72 L546.26,271.91 L546.74,270.08 L547.22,268.23 L547.70,266.38 L548.18,264.51 L548.66,262.63 L549.14,260.75 L549.62,258.86 L550.10,256.97 L550.58,255.07 L551.06,253.18 L551.54,251.29 L552.02,249.41 L552.51,247.53 L552.99,245.66 L553.47,243.81 L553.95,241.96 L554.43,240.13 L554.91,238.32 L555.39,236.52 L555.87,234.75 L556.35,233.00 L556.83,231.27 L557.31,229.57 L557.79,227.89 L558.27,226.25 L558.75,224.63 L559.23,223.05 L559.71,221.51 L560.19,220.00 L560.67,218.52 L561.16,217.09 L561.64,215.70 L562.12,214.35 L562.60,213.04 L563.08,211.78 L563.56,210.57 L564.04,209.40 L564.52,208.28 L565.00,207.21 L565.48,206.20 L565.96,205.23 L566.44,204.32 L566.92,203.46 L567.40,202.66 L567.88,201.92 L568.36,201.23 L568.84,200.59 L569.33,200.02 L569.81,199.51 L570.29,199.05 L570.77,198.65 L571.25,198.32 L571.73,198.04 L572.21,197.83 L572.69,197.67 L573.17,197.58 L573.65,197.55 L574.13,197.58 L574.61,197.67 L575.09,197.82 L575.57,198.04 L576.05,198.31 L576.53,198.64 L577.01,199.04 L577.49,199.49 L577.98,200.01 L578.46,200.58 L578.94,201.21 L579.42,201.90 L579.90,202.64 L580.38,203.45 L580.86,204.30 L581.34,205.21 L581.82,206.18 L582.30,207.19 L582.78,208.26 L583.26,209.38 L583.74,210.54 L584.22,211.75 L584.70,213.01 L585.18,214.32 L585.66,215.67 L586.14,217.06 L586.63,218.49 L587.11,219.96 L587.59,221.47 L588.07,223.02 L588.55,224.60 L589.03,226.21 L589.51,227.85 L589.99,229.53 L590.47,231.23 L590.95,232.96 L591.43,234.71 L591.91,236.48 L592.39,238.28 L592.87,240.09 L593.35,241.92 L593.83,243.76 L594.31,245.62 L594.80,247.49 L595.28,249.37 L595.76,251.25 L596.24,253.14 L596.72,255.03 L597.20,256.92 L597.68,258.82 L598.16,260.70 L598.64,262.59 L599.12,264.47 L599.60,266.33 L600.08,268.19 L600.56,270.04 L601.04,271.87 L601.52,273.68 L602.00,275.48 L602.48,277.25 L602.96,279.00 L603.45,280.73 L603.93,282.43 L604.41,284.11 L604.89,285.75 L605.37,287.36 L605.85,288.95 L606.33,290.49 L606.81,292.00 L607.29,293.47 L607.77,294.91 L608.25,296.30 L608.73,297.65 L609.21,298.95 L609.69,300.22 L610.17,301.43 L610.65,302.60 L611.13,303.72 L611.61,304.78 L612.10,305.80 L612.58,306.77 L613.06,307.68 L613.54,308.53 L614.02,309.34 L614.50,310.08 L614.98,310.77 L615.46,311.40 L615.94,311.98 L616.42,312.49 L616.90,312.95 L617.38,313.35 L617.86,313.68 L618.34,313.96 L618.82,314.17 L619.30,314.33 L619.78,314.42 L620.27,314.45 L620.75,314.42 L621.23,314.33 L621.71,314.18 L622.19,313.96 L622.67,313.69 L623.15,313.36 L623.63,312.96 L624.11,312.51 L624.59,311.99 L625.07,311.42 L625.55,310.79 L626.03,310.10 L626.51,309.36 L626.99,308.56 L627.47,307.70 L627.95,306.79 L628.43,305.83 L628.92,304.81 L629.40,303.74 L629.88,302.63 L630.36,301.46 L630.84,300.25 L631.32,298.99 L631.80,297.68 L632.28,296.33 L632.76,294.94 L633.24,293.51 L633.72,292.04 L634.20,290.53 L634.68,288.98 L635.16,287.40 L635.64,285.79 L636.12,284.15 L636.60,282.47 L637.08,280.77 L637.57,279.05 L638.05,277.29 L638.53,275.52 L639.01,273.73 L639.49,271.91 L639.97,270.08 L640.45,268.24 L640.93,266.38 L641.41,264.51 L641.89,262.64 L642.37,260.75 L642.85,258.86 L643.33,256.97 L643.81,255.08 L644.29,253.19 L644.77,251.30 L645.25,249.41 L645.74,247.54 L646.22,245.67 L646.70,243.81 L647.18,241.97 L647.66,240.14 L648.14,238.32 L648.62,236.53 L649.10,234.75 L649.58,233.00 L650.06,231.27 L650.54,229.57 L651.02,227.90 L651.50,226.25 L651.98,224.64 L652.46,223.06 L652.94,221.51 L653.42,220.00 L653.90,218.53 L654.39,217.10 L654.87,215.70 L655.35,214.35 L655.83,213.05 L656.31,211.79 L656.79,210.57 L657.27,209.40 L657.75,208.29 L658.23,207.22 L658.71,206.20 L659.19,205.24 L659.67,204.32 L660.15,203.47 L660.63,202.66 L661.11,201.92 L661.59,201.23 L662.07,200.60 L662.56,200.02 L663.04,199.51 L663.52,199.05 L664.00,198.65 L664.48,198.32 L664.96,198.04 L665.44,197.83 L665.92,197.67 L666.40,197.58 L666.88,197.55 L667.36,197.58 L667.84,197.67 L668.32,197.82 L668.80,198.04 L669.28,198.31 L669.76,198.64 L670.24,199.04 L670.72,199.49 L671.21,200.01 L671.69,200.58 L672.17,201.21 L672.65,201.90 L673.13,202.64 L673.61,203.44 L674.09,204.30 L674.57,205.21 L675.05,206.17 L675.53,207.19 L676.01,208.26 L676.49,209.37 L676.97,210.54 L677.45,211.75 L677.93,213.01 L678.41,214.32 L678.89,215.67 L679.37,217.06 L679.86,218.49 L680.34,219.96 L680.82,221.47 L681.30,223.01 L681.78,224.59 L682.26,226.21 L682.74,227.85 L683.22,229.52 L683.70,231.23" fill="none" stroke="#404040" stroke-width="0.85" stroke-dasharray="6.9 3.65"/>
<path d="M132.31,273.18 L140.31,281.18 M132.31,281.18 L140.31,273.18" stroke="#0072BD" stroke-width="2.2" stroke-linecap="round"/>
<circle cx="136.31" cy="277.18" r="3.3" fill="none" stroke="#D95319" stroke-width="2.4"/>
<path d="M189.93,199.58 L197.93,207.58 M189.93,207.58 L197.93,199.58" stroke="#0072BD" stroke-width="2.2" stroke-linecap="round"/>
<circle cx="193.93" cy="203.58" r="3.3" fill="none" stroke="#D95319" stroke-width="2.4"/>
<path d="M247.55,308.12 L255.55,316.12 M247.55,316.12 L255.55,308.12" stroke="#0072BD" stroke-width="2.2" stroke-linecap="round"/>
<circle cx="251.55" cy="312.12" r="3.3" fill="none" stroke="#D95319" stroke-width="2.4"/>
<path d="M305.17,221.65 L313.17,229.65 M305.17,229.65 L313.17,221.65" stroke="#0072BD" stroke-width="2.2" stroke-linecap="round"/>
<circle cx="309.17" cy="225.65" r="3.3" fill="none" stroke="#D95319" stroke-width="2.4"/>
<path d="M362.79,240.63 L370.79,248.63 M362.79,248.63 L370.79,240.63" stroke="#0072BD" stroke-width="2.2" stroke-linecap="round"/>
<circle cx="366.79" cy="244.63" r="3.3" fill="none" stroke="#D95319" stroke-width="2.4"/>
<path d="M420.41,299.11 L428.41,307.11 M420.41,307.11 L428.41,299.11" stroke="#0072BD" stroke-width="2.2" stroke-linecap="round"/>
<circle cx="424.41" cy="303.11" r="3.3" fill="none" stroke="#D95319" stroke-width="2.4"/>
<path d="M478.03,193.89 L486.03,201.89 M478.03,201.89 L486.03,193.89" stroke="#0072BD" stroke-width="2.2" stroke-linecap="round"/>
<circle cx="482.03" cy="197.89" r="3.3" fill="none" stroke="#D95319" stroke-width="2.4"/>
<path d="M535.65,290.58 L543.65,298.58 M535.65,298.58 L543.65,290.58" stroke="#0072BD" stroke-width="2.2" stroke-linecap="round"/>
<circle cx="539.65" cy="294.58" r="3.3" fill="none" stroke="#D95319" stroke-width="2.4"/>
<path d="M593.27,253.21 L601.27,261.21 M593.27,261.21 L601.27,253.21" stroke="#0072BD" stroke-width="2.2" stroke-linecap="round"/>
<circle cx="597.27" cy="257.21" r="3.3" fill="none" stroke="#D95319" stroke-width="2.4"/>
<path d="M650.89,211.63 L658.89,219.63 M650.89,219.63 L658.89,211.63" stroke="#0072BD" stroke-width="2.2" stroke-linecap="round"/>
<circle cx="654.89" cy="215.63" r="3.3" fill="none" stroke="#D95319" stroke-width="2.4"/>
</g>
<line x1="107.60" y1="435.00" x2="684.00" y2="435.00" stroke="#B3B3B3" stroke-width="1.4" stroke-dasharray="6.7 3.83"/>
<circle cx="136.31" cy="435.0" r="3.05" fill="none" stroke="#D95319" stroke-width="2.3"/>
<circle cx="193.93" cy="435.0" r="3.05" fill="none" stroke="#D95319" stroke-width="2.3"/>
<circle cx="251.55" cy="435.0" r="3.05" fill="none" stroke="#D95319" stroke-width="2.3"/>
<circle cx="309.17" cy="435.0" r="3.05" fill="none" stroke="#D95319" stroke-width="2.3"/>
<circle cx="366.79" cy="435.0" r="3.05" fill="none" stroke="#D95319" stroke-width="2.3"/>
<circle cx="424.41" cy="435.0" r="3.05" fill="none" stroke="#D95319" stroke-width="2.3"/>
<circle cx="482.03" cy="435.0" r="3.05" fill="none" stroke="#D95319" stroke-width="2.3"/>
<circle cx="539.65" cy="435.0" r="3.05" fill="none" stroke="#D95319" stroke-width="2.3"/>
<circle cx="597.27" cy="435.0" r="3.05" fill="none" stroke="#D95319" stroke-width="2.3"/>
<circle cx="654.89" cy="435.0" r="3.05" fill="none" stroke="#D95319" stroke-width="2.3"/>
<path d="M132.01,480.50 L140.61,489.10 M132.01,489.10 L140.61,480.50" stroke="#0072BD" stroke-width="1.9" stroke-linecap="round"/>
<path d="M189.63,425.40 L198.23,434.00 M189.63,434.00 L198.23,425.40" stroke="#0072BD" stroke-width="1.9" stroke-linecap="round"/>
<path d="M247.25,390.60 L255.85,399.20 M247.25,399.20 L255.85,390.60" stroke="#0072BD" stroke-width="1.9" stroke-linecap="round"/>
<path d="M304.87,497.00 L313.47,505.60 M304.87,505.60 L313.47,497.00" stroke="#0072BD" stroke-width="1.9" stroke-linecap="round"/>
<path d="M362.49,375.70 L371.09,384.30 M362.49,384.30 L371.09,375.70" stroke="#0072BD" stroke-width="1.9" stroke-linecap="round"/>
<path d="M420.11,447.80 L428.71,456.40 M420.11,456.40 L428.71,447.80" stroke="#0072BD" stroke-width="1.9" stroke-linecap="round"/>
<path d="M477.73,462.00 L486.33,470.60 M477.73,470.60 L486.33,462.00" stroke="#0072BD" stroke-width="1.9" stroke-linecap="round"/>
<path d="M535.35,369.10 L543.95,377.70 M535.35,377.70 L543.95,369.10" stroke="#0072BD" stroke-width="1.9" stroke-linecap="round"/>
<path d="M592.97,492.70 L601.57,501.30 M592.97,501.30 L601.57,492.70" stroke="#0072BD" stroke-width="1.9" stroke-linecap="round"/>
<path d="M650.59,403.40 L659.19,412.00 M650.59,412.00 L659.19,403.40" stroke="#0072BD" stroke-width="1.9" stroke-linecap="round"/>
<text id="t_paL" class="tx" transform="matrix(1.07216,0.00000,0.00000,1.14513,0.45750,30.76984)" style="font-family:'Liberation Serif', serif;font-size:24px;" fill="#000" text-rendering="geometricPrecision">(</text>
<text id="t_pa_a" class="tx" transform="matrix(1.19395,0.00000,0.00000,0.98370,8.34461,30.42009)" style="font-family:'Liberation Serif', serif;font-size:24px;font-style:italic;" fill="#000" text-rendering="geometricPrecision">a</text>
<text id="t_paR" class="tx" transform="matrix(1.05540,0.00000,0.00000,1.15027,20.85902,30.70925)" style="font-family:'Liberation Serif', serif;font-size:24px;" fill="#000" text-rendering="geometricPrecision">)</text>
<text id="t_pbL" class="tx" transform="matrix(1.00294,0.00000,0.00000,1.13116,-0.33573,204.26933)" style="font-family:'Liberation Serif', serif;font-size:24px;" fill="#000" text-rendering="geometricPrecision">(</text>
<text id="t_pb_b" class="tx" transform="matrix(0.87535,0.00000,0.00000,0.99216,7.69821,203.23364)" style="font-family:'Liberation Serif', serif;font-size:24px;font-style:italic;" fill="#000" text-rendering="geometricPrecision">b</text>
<text id="t_pbR" class="tx" transform="matrix(1.00033,0.00000,0.00000,1.13309,17.87045,204.23236)" style="font-family:'Liberation Serif', serif;font-size:24px;" fill="#000" text-rendering="geometricPrecision">)</text>
<text id="t_pcL" class="tx" transform="matrix(0.98782,0.00000,0.00000,1.15293,0.05126,377.85552)" style="font-family:'Liberation Serif', serif;font-size:24px;" fill="#000" text-rendering="geometricPrecision">(</text>
<text id="t_pc_c" class="tx" transform="matrix(1.02359,0.00000,0.00000,0.97432,7.73986,377.52635)" style="font-family:'Liberation Serif', serif;font-size:24px;font-style:italic;" fill="#000" text-rendering="geometricPrecision">c</text>
<text id="t_pcR" class="tx" transform="matrix(1.06106,0.00000,0.00000,1.14908,18.00854,377.69388)" style="font-family:'Liberation Serif', serif;font-size:24px;" fill="#000" text-rendering="geometricPrecision">)</text>
<text id="t_ya1" class="tx" transform="matrix(0.95861,0.00000,0.00000,1.02815,59.90319,31.92279)" style="font-family:'Liberation Serif', serif;font-size:24px;" fill="#000" text-rendering="geometricPrecision">0.05</text>
<text id="t_ya2" class="tx" transform="matrix(1.11389,0.00000,0.00000,1.02293,88.55067,91.78086)" style="font-family:'Liberation Serif', serif;font-size:24px;" fill="#000" text-rendering="geometricPrecision">0</text>
<text id="t_ya3" class="tx" transform="matrix(0.95340,0.00000,0.00000,0.94842,53.17392,150.16850)" style="font-family:'Liberation Serif', serif;font-size:24px;" fill="#000" text-rendering="geometricPrecision">-0.05</text>
<text id="t_yb1" class="tx" transform="matrix(0.96115,0.00000,0.00000,1.01769,59.60396,194.14734)" style="font-family:'Liberation Serif', serif;font-size:24px;" fill="#000" text-rendering="geometricPrecision">0.05</text>
<text id="t_yb2" class="tx" transform="matrix(1.11802,0.00000,0.00000,1.00585,88.53127,264.34729)" style="font-family:'Liberation Serif', serif;font-size:24px;" fill="#000" text-rendering="geometricPrecision">0</text>
<text id="t_yb3" class="tx" transform="matrix(0.95340,0.00000,0.00000,0.94842,53.17392,333.29810)" style="font-family:'Liberation Serif', serif;font-size:24px;" fill="#000" text-rendering="geometricPrecision">-0.05</text>
<text id="t_yc1" class="tx" transform="matrix(0.95436,0.00000,0.00000,1.03142,29.90918,378.74452)" style="font-family:'Liberation Serif', serif;font-size:24px;" fill="#000" text-rendering="geometricPrecision">-0.0298</text>
<text id="t_yc2" class="tx" transform="matrix(0.96223,0.00000,0.00000,1.02221,29.82592,437.13979)" style="font-family:'Liberation Serif', serif;font-size:24px;" fill="#000" text-rendering="geometricPrecision">-0.0307</text>
<text id="t_yc3" class="tx" transform="matrix(0.96476,0.00000,0.00000,0.94265,29.81746,494.40037)" style="font-family:'Liberation Serif', serif;font-size:24px;" fill="#000" text-rendering="geometricPrecision">-0.0316</text>
<text id="t_x1" class="tx" transform="matrix(0.93712,0.00000,0.00000,1.07519,130.17840,539.50000)" style="font-family:'Liberation Serif', serif;font-size:24px;" fill="#000" text-rendering="geometricPrecision">1</text>
<text id="t_x3" class="tx" transform="matrix(0.99085,0.00000,0.00000,1.05209,245.04471,539.56104)" style="font-family:'Liberation Serif', serif;font-size:24px;" fill="#000" text-rendering="geometricPrecision">3</text>
<text id="t_x5" class="tx" transform="matrix(1.04552,0.00000,0.00000,1.04823,359.76543,539.72219)" style="font-family:'Liberation Serif', serif;font-size:24px;" fill="#000" text-rendering="geometricPrecision">5</text>
<text id="t_x7" class="tx" transform="matrix(1.03147,0.00000,0.00000,1.03406,474.95499,539.84059)" style="font-family:'Liberation Serif', serif;font-size:24px;" fill="#000" text-rendering="geometricPrecision">7</text>
<text id="t_x9" class="tx" transform="matrix(1.02797,0.00000,0.00000,1.06171,591.23345,539.59225)" style="font-family:'Liberation Serif', serif;font-size:24px;" fill="#000" text-rendering="geometricPrecision">9</text>
<text id="t_site" class="tx" transform="matrix(1.09058,0.00000,0.00000,1.03406,376.41298,561.74298)" style="font-family:'Liberation Serif', serif;font-size:26px;" fill="#000" text-rendering="geometricPrecision">site</text>
<text id="t_a_V" class="tx" transform="matrix(0.00000,-1.06579,1.06527,0.00000,21.17477,121.39900)" style="font-family:'Liberation Serif', serif;font-size:27px;font-style:italic;" fill="#000" text-rendering="geometricPrecision">V</text>
<text id="t_a_D" class="tx" transform="matrix(0.00000,-1.05567,1.00056,0.00000,23.97332,107.17426)" style="font-family:'Liberation Serif', serif;font-size:19px;" fill="#000" text-rendering="geometricPrecision">D</text>
<text id="t_a_E" class="tx" transform="matrix(0.00000,-1.17312,1.01040,0.00000,20.00000,77.18693)" style="font-family:'Liberation Serif', serif;font-size:27px;font-style:italic;" fill="#000" text-rendering="geometricPrecision">E</text>
<text id="t_a_R" class="tx" transform="matrix(0.00000,-1.09897,1.02060,0.00000,24.13181,60.80893)" style="font-family:'Liberation Serif', serif;font-size:19px;" fill="#000" text-rendering="geometricPrecision">R</text>
<text id="t_b_e" class="tx" transform="matrix(0.00000,-0.86247,0.88265,0.00000,19.67881,283.49859)" style="font-family:'Liberation Serif', serif;font-size:27px;font-style:italic;" fill="#000" text-rendering="geometricPrecision">ϵ</text>
<text id="t_b_E" class="tx" transform="matrix(0.00000,-1.16501,1.01111,0.00000,20.30000,259.68516)" style="font-family:'Liberation Serif', serif;font-size:27px;font-style:italic;" fill="#000" text-rendering="geometricPrecision">E</text>
<text id="t_b_R" class="tx" transform="matrix(0.00000,-1.09015,1.02060,0.00000,23.13181,242.62924)" style="font-family:'Liberation Serif', serif;font-size:19px;" fill="#000" text-rendering="geometricPrecision">R</text>
<text id="t_c_J" class="tx" transform="matrix(0.00000,-1.23034,1.04281,0.00000,19.79426,458.32042)" style="font-family:'Liberation Serif', serif;font-size:27px;font-style:italic;" fill="#000" text-rendering="geometricPrecision">J</text>
<text id="t_c_E" class="tx" transform="matrix(0.00000,-1.17148,0.98701,0.00000,19.31253,430.28991)" style="font-family:'Liberation Serif', serif;font-size:27px;font-style:italic;" fill="#000" text-rendering="geometricPrecision">E</text>
<text id="t_c_R" class="tx" transform="matrix(0.00000,-1.16697,1.01619,0.00000,23.97173,413.15115)" style="font-family:'Liberation Serif', serif;font-size:19px;" fill="#000" text-rendering="geometricPrecision">R</text>
<line x1="1.50" y1="80.50" x2="25.90" y2="89.50" stroke="#000" stroke-width="1.2" />
<line x1="1.57" y1="262.20" x2="25.70" y2="271.60" stroke="#000" stroke-width="1.2" />
<line x1="0.50" y1="432.40" x2="24.90" y2="442.00" stroke="#000" stroke-width="1.2" />
</svg></body></html>
